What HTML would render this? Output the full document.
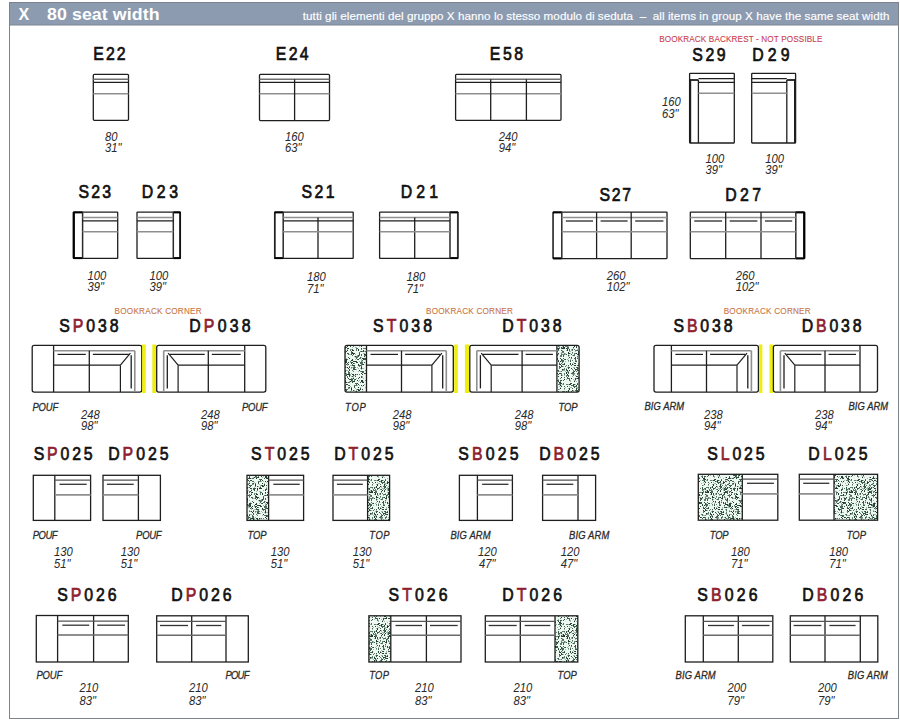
<!DOCTYPE html>
<html><head><meta charset="utf-8"><title>X 80 seat width</title>
<style>
html,body{margin:0;padding:0;background:#fff;}
body{width:900px;height:725px;overflow:hidden;position:relative;}
svg{position:absolute;left:0;top:0;}
</style></head><body>
<svg width="900" height="725" viewBox="0 0 900 725">
<defs>
<pattern id="tex" patternUnits="userSpaceOnUse" width="48" height="48">
<rect width="48" height="48" fill="#eef7f1"/><rect x="0" y="1" width="1" height="1" fill="#223a2e"/><rect x="0" y="2" width="1" height="1" fill="#4a6a58"/><rect x="0" y="3" width="1" height="1" fill="#9fb8aa"/><rect x="0" y="4" width="1" height="1" fill="#2b4838"/><rect x="0" y="5" width="1" height="1" fill="#2b4838"/><rect x="0" y="6" width="2" height="2" fill="#3a5a48"/><rect x="0" y="8" width="1" height="1" fill="#4a6a58"/><rect x="0" y="10" width="1" height="1" fill="#3a5a48"/><rect x="0" y="11" width="1" height="1" fill="#223a2e"/><rect x="0" y="14" width="2" height="1" fill="#4a6a58"/><rect x="0" y="17" width="1" height="1" fill="#223a2e"/><rect x="0" y="24" width="1" height="1" fill="#9fb8aa"/><rect x="0" y="25" width="1" height="1" fill="#3a5a48"/><rect x="0" y="31" width="1" height="1" fill="#4a6a58"/><rect x="0" y="33" width="1" height="1" fill="#2b4838"/><rect x="0" y="35" width="1" height="1" fill="#4a6a58"/><rect x="0" y="40" width="1" height="1" fill="#223a2e"/><rect x="0" y="42" width="2" height="1" fill="#5f7f6d"/><rect x="0" y="45" width="1" height="1" fill="#9fb8aa"/><rect x="1" y="0" width="1" height="1" fill="#2b4838"/><rect x="1" y="3" width="1" height="1" fill="#9fb8aa"/><rect x="1" y="4" width="1" height="1" fill="#9fb8aa"/><rect x="1" y="9" width="1" height="1" fill="#2b4838"/><rect x="1" y="13" width="1" height="1" fill="#9fb8aa"/><rect x="1" y="18" width="1" height="1" fill="#3a5a48"/><rect x="1" y="20" width="1" height="1" fill="#4a6a58"/><rect x="1" y="21" width="1" height="1" fill="#9fb8aa"/><rect x="1" y="22" width="1" height="1" fill="#4a6a58"/><rect x="1" y="29" width="1" height="1" fill="#4a6a58"/><rect x="1" y="31" width="1" height="1" fill="#2b4838"/><rect x="1" y="32" width="1" height="1" fill="#3a5a48"/><rect x="1" y="33" width="1" height="1" fill="#4a6a58"/><rect x="1" y="34" width="1" height="1" fill="#3a5a48"/><rect x="1" y="37" width="1" height="1" fill="#3a5a48"/><rect x="1" y="38" width="1" height="1" fill="#5f7f6d"/><rect x="1" y="40" width="1" height="1" fill="#2b4838"/><rect x="1" y="42" width="2" height="1" fill="#223a2e"/><rect x="1" y="47" width="1" height="1" fill="#4a6a58"/><rect x="2" y="3" width="1" height="1" fill="#9fb8aa"/><rect x="2" y="5" width="1" height="1" fill="#5f7f6d"/><rect x="2" y="8" width="1" height="1" fill="#9fb8aa"/><rect x="2" y="15" width="1" height="2" fill="#3a5a48"/><rect x="2" y="17" width="1" height="2" fill="#2b4838"/><rect x="2" y="18" width="1" height="1" fill="#223a2e"/><rect x="2" y="19" width="1" height="1" fill="#9fb8aa"/><rect x="2" y="27" width="1" height="1" fill="#9fb8aa"/><rect x="2" y="28" width="1" height="1" fill="#9fb8aa"/><rect x="2" y="29" width="1" height="1" fill="#3a5a48"/><rect x="2" y="32" width="2" height="1" fill="#5f7f6d"/><rect x="2" y="34" width="2" height="1" fill="#2b4838"/><rect x="2" y="36" width="1" height="2" fill="#5f7f6d"/><rect x="2" y="41" width="1" height="1" fill="#3a5a48"/><rect x="3" y="1" width="1" height="1" fill="#4a6a58"/><rect x="3" y="2" width="1" height="2" fill="#223a2e"/><rect x="3" y="7" width="1" height="1" fill="#9fb8aa"/><rect x="3" y="8" width="1" height="1" fill="#9fb8aa"/><rect x="3" y="9" width="1" height="1" fill="#9fb8aa"/><rect x="3" y="10" width="1" height="1" fill="#9fb8aa"/><rect x="3" y="12" width="1" height="1" fill="#9fb8aa"/><rect x="3" y="14" width="1" height="2" fill="#5f7f6d"/><rect x="3" y="22" width="1" height="1" fill="#2b4838"/><rect x="3" y="23" width="1" height="1" fill="#3a5a48"/><rect x="3" y="31" width="1" height="1" fill="#4a6a58"/><rect x="3" y="32" width="1" height="1" fill="#223a2e"/><rect x="3" y="34" width="1" height="1" fill="#223a2e"/><rect x="3" y="46" width="1" height="1" fill="#9fb8aa"/><rect x="4" y="2" width="1" height="1" fill="#223a2e"/><rect x="4" y="6" width="1" height="1" fill="#9fb8aa"/><rect x="4" y="8" width="2" height="2" fill="#3a5a48"/><rect x="4" y="10" width="1" height="1" fill="#3a5a48"/><rect x="4" y="12" width="1" height="2" fill="#2b4838"/><rect x="4" y="14" width="1" height="1" fill="#2b4838"/><rect x="4" y="16" width="1" height="2" fill="#5f7f6d"/><rect x="4" y="23" width="1" height="1" fill="#9fb8aa"/><rect x="4" y="25" width="1" height="1" fill="#3a5a48"/><rect x="4" y="26" width="1" height="1" fill="#9fb8aa"/><rect x="4" y="27" width="1" height="1" fill="#3a5a48"/><rect x="4" y="37" width="1" height="1" fill="#9fb8aa"/><rect x="4" y="39" width="1" height="1" fill="#223a2e"/><rect x="4" y="42" width="1" height="1" fill="#3a5a48"/><rect x="5" y="0" width="1" height="1" fill="#9fb8aa"/><rect x="5" y="1" width="2" height="1" fill="#4a6a58"/><rect x="5" y="4" width="1" height="1" fill="#9fb8aa"/><rect x="5" y="5" width="2" height="1" fill="#5f7f6d"/><rect x="5" y="7" width="1" height="2" fill="#2b4838"/><rect x="5" y="8" width="1" height="1" fill="#5f7f6d"/><rect x="5" y="9" width="2" height="1" fill="#223a2e"/><rect x="5" y="11" width="1" height="1" fill="#2b4838"/><rect x="5" y="12" width="2" height="1" fill="#2b4838"/><rect x="5" y="17" width="1" height="1" fill="#9fb8aa"/><rect x="5" y="18" width="1" height="1" fill="#9fb8aa"/><rect x="5" y="19" width="1" height="1" fill="#3a5a48"/><rect x="5" y="22" width="1" height="1" fill="#5f7f6d"/><rect x="5" y="23" width="1" height="2" fill="#2b4838"/><rect x="5" y="27" width="1" height="1" fill="#3a5a48"/><rect x="5" y="29" width="1" height="1" fill="#9fb8aa"/><rect x="5" y="33" width="1" height="1" fill="#9fb8aa"/><rect x="5" y="37" width="1" height="1" fill="#2b4838"/><rect x="5" y="38" width="1" height="1" fill="#9fb8aa"/><rect x="5" y="40" width="1" height="1" fill="#9fb8aa"/><rect x="5" y="42" width="1" height="1" fill="#223a2e"/><rect x="5" y="45" width="1" height="1" fill="#9fb8aa"/><rect x="5" y="47" width="1" height="2" fill="#4a6a58"/><rect x="6" y="6" width="1" height="1" fill="#9fb8aa"/><rect x="6" y="8" width="2" height="1" fill="#4a6a58"/><rect x="6" y="11" width="1" height="1" fill="#4a6a58"/><rect x="6" y="19" width="1" height="1" fill="#9fb8aa"/><rect x="6" y="20" width="2" height="1" fill="#3a5a48"/><rect x="6" y="24" width="2" height="1" fill="#223a2e"/><rect x="6" y="27" width="2" height="1" fill="#223a2e"/><rect x="6" y="29" width="1" height="2" fill="#4a6a58"/><rect x="6" y="31" width="1" height="1" fill="#9fb8aa"/><rect x="6" y="32" width="1" height="2" fill="#5f7f6d"/><rect x="6" y="34" width="1" height="1" fill="#9fb8aa"/><rect x="6" y="38" width="1" height="1" fill="#5f7f6d"/><rect x="6" y="40" width="1" height="1" fill="#4a6a58"/><rect x="6" y="41" width="1" height="1" fill="#9fb8aa"/><rect x="6" y="45" width="1" height="1" fill="#223a2e"/><rect x="6" y="47" width="2" height="1" fill="#3a5a48"/><rect x="7" y="0" width="1" height="1" fill="#9fb8aa"/><rect x="7" y="4" width="1" height="1" fill="#4a6a58"/><rect x="7" y="7" width="1" height="1" fill="#2b4838"/><rect x="7" y="10" width="1" height="1" fill="#9fb8aa"/><rect x="7" y="11" width="1" height="1" fill="#3a5a48"/><rect x="7" y="12" width="1" height="1" fill="#4a6a58"/><rect x="7" y="13" width="1" height="1" fill="#4a6a58"/><rect x="7" y="15" width="1" height="1" fill="#9fb8aa"/><rect x="7" y="18" width="1" height="2" fill="#223a2e"/><rect x="7" y="21" width="1" height="1" fill="#5f7f6d"/><rect x="7" y="22" width="1" height="1" fill="#5f7f6d"/><rect x="7" y="25" width="2" height="1" fill="#3a5a48"/><rect x="7" y="27" width="1" height="1" fill="#9fb8aa"/><rect x="7" y="34" width="1" height="1" fill="#9fb8aa"/><rect x="7" y="35" width="1" height="2" fill="#223a2e"/><rect x="7" y="36" width="1" height="1" fill="#9fb8aa"/><rect x="7" y="38" width="1" height="1" fill="#9fb8aa"/><rect x="7" y="39" width="1" height="1" fill="#9fb8aa"/><rect x="7" y="41" width="1" height="1" fill="#5f7f6d"/><rect x="8" y="0" width="1" height="1" fill="#2b4838"/><rect x="8" y="3" width="1" height="1" fill="#9fb8aa"/><rect x="8" y="4" width="1" height="1" fill="#4a6a58"/><rect x="8" y="7" width="1" height="1" fill="#9fb8aa"/><rect x="8" y="10" width="1" height="1" fill="#9fb8aa"/><rect x="8" y="15" width="1" height="1" fill="#3a5a48"/><rect x="8" y="24" width="1" height="1" fill="#9fb8aa"/><rect x="8" y="25" width="1" height="1" fill="#4a6a58"/><rect x="8" y="26" width="1" height="1" fill="#9fb8aa"/><rect x="8" y="27" width="1" height="1" fill="#9fb8aa"/><rect x="8" y="36" width="1" height="1" fill="#5f7f6d"/><rect x="8" y="37" width="1" height="2" fill="#4a6a58"/><rect x="8" y="40" width="1" height="1" fill="#3a5a48"/><rect x="8" y="46" width="2" height="1" fill="#2b4838"/><rect x="9" y="1" width="1" height="1" fill="#4a6a58"/><rect x="9" y="2" width="1" height="1" fill="#9fb8aa"/><rect x="9" y="3" width="1" height="1" fill="#3a5a48"/><rect x="9" y="5" width="1" height="1" fill="#2b4838"/><rect x="9" y="7" width="1" height="1" fill="#3a5a48"/><rect x="9" y="11" width="1" height="2" fill="#5f7f6d"/><rect x="9" y="14" width="1" height="1" fill="#5f7f6d"/><rect x="9" y="15" width="1" height="1" fill="#5f7f6d"/><rect x="9" y="16" width="1" height="1" fill="#4a6a58"/><rect x="9" y="17" width="1" height="1" fill="#9fb8aa"/><rect x="9" y="20" width="1" height="1" fill="#9fb8aa"/><rect x="9" y="23" width="2" height="2" fill="#2b4838"/><rect x="9" y="25" width="2" height="2" fill="#2b4838"/><rect x="9" y="27" width="1" height="1" fill="#9fb8aa"/><rect x="9" y="30" width="1" height="1" fill="#9fb8aa"/><rect x="9" y="31" width="2" height="1" fill="#5f7f6d"/><rect x="9" y="34" width="2" height="1" fill="#5f7f6d"/><rect x="9" y="35" width="1" height="1" fill="#2b4838"/><rect x="9" y="37" width="1" height="1" fill="#2b4838"/><rect x="9" y="39" width="1" height="1" fill="#9fb8aa"/><rect x="9" y="42" width="1" height="1" fill="#3a5a48"/><rect x="9" y="44" width="1" height="1" fill="#4a6a58"/><rect x="9" y="45" width="1" height="1" fill="#223a2e"/><rect x="10" y="0" width="2" height="1" fill="#2b4838"/><rect x="10" y="5" width="2" height="1" fill="#4a6a58"/><rect x="10" y="6" width="1" height="1" fill="#2b4838"/><rect x="10" y="8" width="1" height="1" fill="#223a2e"/><rect x="10" y="11" width="1" height="1" fill="#3a5a48"/><rect x="10" y="15" width="1" height="1" fill="#2b4838"/><rect x="10" y="22" width="1" height="1" fill="#9fb8aa"/><rect x="10" y="28" width="2" height="1" fill="#3a5a48"/><rect x="10" y="31" width="1" height="1" fill="#9fb8aa"/><rect x="10" y="34" width="1" height="1" fill="#9fb8aa"/><rect x="10" y="37" width="1" height="1" fill="#9fb8aa"/><rect x="10" y="38" width="2" height="1" fill="#4a6a58"/><rect x="10" y="39" width="1" height="1" fill="#3a5a48"/><rect x="10" y="46" width="1" height="1" fill="#2b4838"/><rect x="11" y="8" width="1" height="1" fill="#3a5a48"/><rect x="11" y="9" width="1" height="1" fill="#9fb8aa"/><rect x="11" y="10" width="1" height="1" fill="#223a2e"/><rect x="11" y="12" width="1" height="1" fill="#2b4838"/><rect x="11" y="13" width="1" height="1" fill="#9fb8aa"/><rect x="11" y="14" width="1" height="1" fill="#223a2e"/><rect x="11" y="17" width="1" height="1" fill="#3a5a48"/><rect x="11" y="23" width="1" height="1" fill="#5f7f6d"/><rect x="11" y="27" width="1" height="1" fill="#3a5a48"/><rect x="11" y="28" width="1" height="1" fill="#9fb8aa"/><rect x="11" y="29" width="1" height="1" fill="#9fb8aa"/><rect x="11" y="31" width="1" height="1" fill="#223a2e"/><rect x="11" y="34" width="1" height="1" fill="#9fb8aa"/><rect x="11" y="38" width="1" height="1" fill="#2b4838"/><rect x="11" y="40" width="1" height="1" fill="#5f7f6d"/><rect x="11" y="41" width="1" height="1" fill="#4a6a58"/><rect x="11" y="46" width="1" height="1" fill="#9fb8aa"/><rect x="12" y="1" width="2" height="1" fill="#4a6a58"/><rect x="12" y="3" width="1" height="1" fill="#5f7f6d"/><rect x="12" y="4" width="1" height="1" fill="#5f7f6d"/><rect x="12" y="12" width="1" height="1" fill="#223a2e"/><rect x="12" y="17" width="1" height="2" fill="#4a6a58"/><rect x="12" y="18" width="1" height="1" fill="#5f7f6d"/><rect x="12" y="21" width="1" height="1" fill="#4a6a58"/><rect x="12" y="26" width="1" height="1" fill="#2b4838"/><rect x="12" y="28" width="1" height="1" fill="#223a2e"/><rect x="12" y="32" width="1" height="1" fill="#223a2e"/><rect x="12" y="35" width="1" height="2" fill="#4a6a58"/><rect x="12" y="37" width="1" height="1" fill="#5f7f6d"/><rect x="12" y="38" width="1" height="1" fill="#223a2e"/><rect x="12" y="42" width="1" height="1" fill="#3a5a48"/><rect x="12" y="46" width="2" height="1" fill="#4a6a58"/><rect x="13" y="3" width="1" height="1" fill="#2b4838"/><rect x="13" y="4" width="1" height="1" fill="#9fb8aa"/><rect x="13" y="8" width="2" height="1" fill="#3a5a48"/><rect x="13" y="9" width="2" height="1" fill="#4a6a58"/><rect x="13" y="18" width="1" height="1" fill="#9fb8aa"/><rect x="13" y="22" width="1" height="1" fill="#223a2e"/><rect x="13" y="30" width="1" height="1" fill="#5f7f6d"/><rect x="13" y="31" width="1" height="1" fill="#2b4838"/><rect x="13" y="33" width="1" height="2" fill="#3a5a48"/><rect x="13" y="36" width="1" height="2" fill="#4a6a58"/><rect x="13" y="38" width="1" height="2" fill="#223a2e"/><rect x="13" y="40" width="1" height="1" fill="#3a5a48"/><rect x="13" y="43" width="1" height="1" fill="#3a5a48"/><rect x="13" y="45" width="1" height="1" fill="#9fb8aa"/><rect x="14" y="2" width="1" height="1" fill="#9fb8aa"/><rect x="14" y="7" width="1" height="1" fill="#9fb8aa"/><rect x="14" y="9" width="1" height="2" fill="#2b4838"/><rect x="14" y="13" width="1" height="1" fill="#5f7f6d"/><rect x="14" y="14" width="1" height="1" fill="#5f7f6d"/><rect x="14" y="18" width="1" height="1" fill="#9fb8aa"/><rect x="14" y="25" width="1" height="1" fill="#5f7f6d"/><rect x="14" y="26" width="1" height="1" fill="#9fb8aa"/><rect x="14" y="29" width="1" height="1" fill="#9fb8aa"/><rect x="14" y="38" width="1" height="1" fill="#9fb8aa"/><rect x="14" y="39" width="1" height="1" fill="#9fb8aa"/><rect x="14" y="43" width="1" height="1" fill="#2b4838"/><rect x="14" y="45" width="1" height="1" fill="#223a2e"/><rect x="15" y="3" width="1" height="1" fill="#5f7f6d"/><rect x="15" y="4" width="1" height="2" fill="#223a2e"/><rect x="15" y="5" width="1" height="2" fill="#223a2e"/><rect x="15" y="6" width="1" height="1" fill="#5f7f6d"/><rect x="15" y="8" width="1" height="1" fill="#4a6a58"/><rect x="15" y="13" width="1" height="1" fill="#9fb8aa"/><rect x="15" y="15" width="1" height="1" fill="#4a6a58"/><rect x="15" y="16" width="1" height="1" fill="#3a5a48"/><rect x="15" y="17" width="2" height="1" fill="#4a6a58"/><rect x="15" y="18" width="1" height="1" fill="#3a5a48"/><rect x="15" y="24" width="2" height="1" fill="#223a2e"/><rect x="15" y="26" width="2" height="1" fill="#2b4838"/><rect x="15" y="27" width="1" height="1" fill="#2b4838"/><rect x="15" y="29" width="1" height="1" fill="#9fb8aa"/><rect x="15" y="31" width="2" height="1" fill="#5f7f6d"/><rect x="15" y="32" width="1" height="1" fill="#9fb8aa"/><rect x="15" y="37" width="1" height="1" fill="#9fb8aa"/><rect x="15" y="40" width="1" height="1" fill="#9fb8aa"/><rect x="15" y="42" width="1" height="2" fill="#5f7f6d"/><rect x="15" y="43" width="2" height="1" fill="#3a5a48"/><rect x="15" y="44" width="1" height="1" fill="#2b4838"/><rect x="15" y="45" width="1" height="1" fill="#9fb8aa"/><rect x="16" y="11" width="1" height="1" fill="#9fb8aa"/><rect x="16" y="13" width="1" height="1" fill="#3a5a48"/><rect x="16" y="14" width="1" height="1" fill="#223a2e"/><rect x="16" y="16" width="1" height="1" fill="#223a2e"/><rect x="16" y="17" width="2" height="1" fill="#223a2e"/><rect x="16" y="19" width="1" height="1" fill="#4a6a58"/><rect x="16" y="23" width="1" height="1" fill="#2b4838"/><rect x="16" y="24" width="1" height="1" fill="#223a2e"/><rect x="16" y="28" width="1" height="1" fill="#5f7f6d"/><rect x="16" y="29" width="1" height="1" fill="#3a5a48"/><rect x="16" y="31" width="1" height="1" fill="#9fb8aa"/><rect x="16" y="34" width="1" height="1" fill="#5f7f6d"/><rect x="16" y="38" width="1" height="1" fill="#2b4838"/><rect x="16" y="40" width="2" height="1" fill="#2b4838"/><rect x="16" y="42" width="1" height="1" fill="#9fb8aa"/><rect x="16" y="44" width="1" height="1" fill="#5f7f6d"/><rect x="16" y="45" width="1" height="1" fill="#3a5a48"/><rect x="16" y="46" width="1" height="1" fill="#2b4838"/><rect x="17" y="6" width="2" height="1" fill="#3a5a48"/><rect x="17" y="8" width="1" height="2" fill="#223a2e"/><rect x="17" y="10" width="1" height="1" fill="#5f7f6d"/><rect x="17" y="14" width="1" height="1" fill="#223a2e"/><rect x="17" y="18" width="1" height="1" fill="#3a5a48"/><rect x="17" y="25" width="2" height="1" fill="#2b4838"/><rect x="17" y="27" width="2" height="1" fill="#2b4838"/><rect x="17" y="29" width="2" height="2" fill="#2b4838"/><rect x="17" y="30" width="1" height="1" fill="#9fb8aa"/><rect x="17" y="31" width="2" height="1" fill="#5f7f6d"/><rect x="17" y="32" width="1" height="2" fill="#3a5a48"/><rect x="17" y="35" width="1" height="1" fill="#5f7f6d"/><rect x="17" y="38" width="1" height="1" fill="#223a2e"/><rect x="17" y="39" width="1" height="2" fill="#3a5a48"/><rect x="17" y="40" width="1" height="1" fill="#9fb8aa"/><rect x="17" y="41" width="1" height="1" fill="#9fb8aa"/><rect x="17" y="42" width="1" height="1" fill="#223a2e"/><rect x="17" y="45" width="2" height="1" fill="#2b4838"/><rect x="18" y="1" width="2" height="1" fill="#4a6a58"/><rect x="18" y="2" width="1" height="2" fill="#3a5a48"/><rect x="18" y="6" width="1" height="1" fill="#9fb8aa"/><rect x="18" y="17" width="1" height="1" fill="#2b4838"/><rect x="18" y="20" width="1" height="1" fill="#9fb8aa"/><rect x="18" y="27" width="1" height="1" fill="#5f7f6d"/><rect x="18" y="30" width="1" height="1" fill="#5f7f6d"/><rect x="18" y="31" width="1" height="1" fill="#3a5a48"/><rect x="18" y="32" width="1" height="1" fill="#4a6a58"/><rect x="18" y="33" width="1" height="1" fill="#2b4838"/><rect x="18" y="39" width="1" height="1" fill="#9fb8aa"/><rect x="18" y="43" width="1" height="2" fill="#4a6a58"/><rect x="18" y="44" width="1" height="1" fill="#5f7f6d"/><rect x="18" y="45" width="1" height="1" fill="#223a2e"/><rect x="19" y="1" width="2" height="1" fill="#5f7f6d"/><rect x="19" y="4" width="1" height="1" fill="#9fb8aa"/><rect x="19" y="7" width="1" height="1" fill="#9fb8aa"/><rect x="19" y="8" width="2" height="1" fill="#223a2e"/><rect x="19" y="11" width="1" height="1" fill="#9fb8aa"/><rect x="19" y="18" width="1" height="1" fill="#9fb8aa"/><rect x="19" y="20" width="1" height="1" fill="#2b4838"/><rect x="19" y="21" width="1" height="1" fill="#9fb8aa"/><rect x="19" y="23" width="1" height="1" fill="#9fb8aa"/><rect x="19" y="25" width="2" height="1" fill="#223a2e"/><rect x="19" y="31" width="1" height="1" fill="#5f7f6d"/><rect x="19" y="33" width="1" height="1" fill="#4a6a58"/><rect x="19" y="38" width="2" height="1" fill="#223a2e"/><rect x="19" y="39" width="1" height="1" fill="#9fb8aa"/><rect x="19" y="40" width="1" height="1" fill="#3a5a48"/><rect x="19" y="43" width="1" height="1" fill="#2b4838"/><rect x="19" y="47" width="2" height="1" fill="#4a6a58"/><rect x="20" y="0" width="1" height="1" fill="#3a5a48"/><rect x="20" y="5" width="1" height="1" fill="#9fb8aa"/><rect x="20" y="6" width="1" height="1" fill="#9fb8aa"/><rect x="20" y="7" width="1" height="1" fill="#2b4838"/><rect x="20" y="11" width="1" height="1" fill="#9fb8aa"/><rect x="20" y="12" width="2" height="1" fill="#4a6a58"/><rect x="20" y="13" width="1" height="2" fill="#5f7f6d"/><rect x="20" y="20" width="2" height="2" fill="#5f7f6d"/><rect x="20" y="21" width="1" height="2" fill="#4a6a58"/><rect x="20" y="25" width="1" height="1" fill="#2b4838"/><rect x="20" y="26" width="2" height="1" fill="#2b4838"/><rect x="20" y="33" width="1" height="1" fill="#9fb8aa"/><rect x="20" y="38" width="1" height="1" fill="#9fb8aa"/><rect x="20" y="42" width="1" height="1" fill="#9fb8aa"/><rect x="21" y="1" width="1" height="1" fill="#9fb8aa"/><rect x="21" y="5" width="1" height="1" fill="#4a6a58"/><rect x="21" y="8" width="1" height="1" fill="#223a2e"/><rect x="21" y="19" width="1" height="1" fill="#9fb8aa"/><rect x="21" y="23" width="1" height="1" fill="#3a5a48"/><rect x="21" y="31" width="1" height="1" fill="#9fb8aa"/><rect x="21" y="38" width="1" height="1" fill="#4a6a58"/><rect x="21" y="44" width="1" height="1" fill="#2b4838"/><rect x="21" y="47" width="1" height="1" fill="#2b4838"/><rect x="22" y="0" width="1" height="1" fill="#2b4838"/><rect x="22" y="3" width="1" height="1" fill="#223a2e"/><rect x="22" y="5" width="1" height="2" fill="#223a2e"/><rect x="22" y="13" width="1" height="2" fill="#223a2e"/><rect x="22" y="19" width="1" height="1" fill="#223a2e"/><rect x="22" y="20" width="1" height="1" fill="#4a6a58"/><rect x="22" y="23" width="1" height="1" fill="#2b4838"/><rect x="22" y="28" width="1" height="2" fill="#223a2e"/><rect x="22" y="29" width="1" height="1" fill="#2b4838"/><rect x="22" y="32" width="1" height="1" fill="#9fb8aa"/><rect x="22" y="35" width="1" height="1" fill="#9fb8aa"/><rect x="22" y="42" width="1" height="1" fill="#3a5a48"/><rect x="22" y="45" width="1" height="1" fill="#9fb8aa"/><rect x="23" y="1" width="1" height="1" fill="#9fb8aa"/><rect x="23" y="5" width="1" height="1" fill="#9fb8aa"/><rect x="23" y="6" width="1" height="1" fill="#223a2e"/><rect x="23" y="10" width="1" height="1" fill="#9fb8aa"/><rect x="23" y="16" width="1" height="1" fill="#4a6a58"/><rect x="23" y="17" width="1" height="1" fill="#3a5a48"/><rect x="23" y="18" width="1" height="2" fill="#2b4838"/><rect x="23" y="19" width="1" height="1" fill="#5f7f6d"/><rect x="23" y="22" width="1" height="1" fill="#5f7f6d"/><rect x="23" y="25" width="1" height="1" fill="#9fb8aa"/><rect x="23" y="29" width="1" height="1" fill="#3a5a48"/><rect x="23" y="30" width="1" height="1" fill="#5f7f6d"/><rect x="23" y="34" width="1" height="1" fill="#223a2e"/><rect x="23" y="38" width="1" height="1" fill="#5f7f6d"/><rect x="23" y="41" width="1" height="1" fill="#223a2e"/><rect x="23" y="44" width="1" height="1" fill="#9fb8aa"/><rect x="24" y="3" width="1" height="1" fill="#9fb8aa"/><rect x="24" y="4" width="1" height="1" fill="#3a5a48"/><rect x="24" y="5" width="1" height="1" fill="#223a2e"/><rect x="24" y="15" width="1" height="1" fill="#5f7f6d"/><rect x="24" y="21" width="2" height="1" fill="#3a5a48"/><rect x="24" y="22" width="1" height="1" fill="#5f7f6d"/><rect x="24" y="26" width="2" height="2" fill="#4a6a58"/><rect x="24" y="29" width="1" height="1" fill="#3a5a48"/><rect x="24" y="32" width="1" height="1" fill="#9fb8aa"/><rect x="24" y="35" width="1" height="1" fill="#5f7f6d"/><rect x="24" y="46" width="1" height="1" fill="#3a5a48"/><rect x="25" y="1" width="1" height="1" fill="#2b4838"/><rect x="25" y="9" width="2" height="1" fill="#3a5a48"/><rect x="25" y="10" width="1" height="1" fill="#2b4838"/><rect x="25" y="12" width="1" height="1" fill="#2b4838"/><rect x="25" y="13" width="1" height="1" fill="#5f7f6d"/><rect x="25" y="15" width="1" height="1" fill="#2b4838"/><rect x="25" y="18" width="1" height="2" fill="#4a6a58"/><rect x="25" y="21" width="1" height="1" fill="#9fb8aa"/><rect x="25" y="23" width="1" height="1" fill="#9fb8aa"/><rect x="25" y="24" width="1" height="1" fill="#9fb8aa"/><rect x="25" y="25" width="1" height="1" fill="#5f7f6d"/><rect x="25" y="28" width="1" height="1" fill="#5f7f6d"/><rect x="25" y="29" width="1" height="2" fill="#5f7f6d"/><rect x="25" y="30" width="1" height="1" fill="#4a6a58"/><rect x="25" y="31" width="1" height="1" fill="#223a2e"/><rect x="25" y="32" width="1" height="1" fill="#2b4838"/><rect x="25" y="33" width="1" height="1" fill="#9fb8aa"/><rect x="25" y="35" width="1" height="1" fill="#3a5a48"/><rect x="25" y="37" width="1" height="1" fill="#223a2e"/><rect x="25" y="40" width="1" height="2" fill="#3a5a48"/><rect x="25" y="44" width="2" height="2" fill="#223a2e"/><rect x="26" y="2" width="1" height="1" fill="#9fb8aa"/><rect x="26" y="5" width="1" height="1" fill="#2b4838"/><rect x="26" y="7" width="1" height="1" fill="#9fb8aa"/><rect x="26" y="8" width="1" height="1" fill="#5f7f6d"/><rect x="26" y="15" width="2" height="1" fill="#5f7f6d"/><rect x="26" y="22" width="2" height="1" fill="#223a2e"/><rect x="26" y="24" width="1" height="1" fill="#4a6a58"/><rect x="26" y="25" width="1" height="1" fill="#9fb8aa"/><rect x="26" y="26" width="1" height="1" fill="#4a6a58"/><rect x="26" y="27" width="1" height="1" fill="#5f7f6d"/><rect x="26" y="28" width="1" height="1" fill="#3a5a48"/><rect x="26" y="32" width="1" height="1" fill="#9fb8aa"/><rect x="26" y="35" width="1" height="1" fill="#3a5a48"/><rect x="26" y="36" width="1" height="1" fill="#2b4838"/><rect x="26" y="38" width="1" height="1" fill="#223a2e"/><rect x="26" y="40" width="1" height="1" fill="#9fb8aa"/><rect x="26" y="41" width="1" height="1" fill="#9fb8aa"/><rect x="26" y="46" width="2" height="1" fill="#2b4838"/><rect x="27" y="1" width="1" height="1" fill="#223a2e"/><rect x="27" y="12" width="1" height="1" fill="#5f7f6d"/><rect x="27" y="14" width="1" height="1" fill="#223a2e"/><rect x="27" y="15" width="1" height="1" fill="#2b4838"/><rect x="27" y="17" width="1" height="1" fill="#9fb8aa"/><rect x="27" y="22" width="1" height="2" fill="#223a2e"/><rect x="27" y="28" width="1" height="1" fill="#223a2e"/><rect x="27" y="32" width="1" height="1" fill="#9fb8aa"/><rect x="27" y="35" width="1" height="1" fill="#4a6a58"/><rect x="27" y="36" width="1" height="1" fill="#4a6a58"/><rect x="27" y="42" width="1" height="1" fill="#9fb8aa"/><rect x="27" y="45" width="1" height="1" fill="#9fb8aa"/><rect x="28" y="0" width="1" height="1" fill="#9fb8aa"/><rect x="28" y="8" width="1" height="1" fill="#5f7f6d"/><rect x="28" y="12" width="1" height="1" fill="#5f7f6d"/><rect x="28" y="15" width="1" height="1" fill="#9fb8aa"/><rect x="28" y="17" width="1" height="1" fill="#9fb8aa"/><rect x="28" y="18" width="1" height="1" fill="#223a2e"/><rect x="28" y="19" width="1" height="2" fill="#5f7f6d"/><rect x="28" y="20" width="1" height="1" fill="#2b4838"/><rect x="28" y="22" width="2" height="2" fill="#3a5a48"/><rect x="28" y="26" width="1" height="1" fill="#3a5a48"/><rect x="28" y="37" width="1" height="1" fill="#223a2e"/><rect x="29" y="3" width="1" height="1" fill="#9fb8aa"/><rect x="29" y="12" width="1" height="1" fill="#5f7f6d"/><rect x="29" y="15" width="1" height="1" fill="#5f7f6d"/><rect x="29" y="18" width="1" height="1" fill="#2b4838"/><rect x="29" y="19" width="1" height="1" fill="#4a6a58"/><rect x="29" y="34" width="1" height="1" fill="#5f7f6d"/><rect x="29" y="37" width="1" height="1" fill="#3a5a48"/><rect x="29" y="44" width="1" height="1" fill="#5f7f6d"/><rect x="30" y="0" width="2" height="1" fill="#5f7f6d"/><rect x="30" y="5" width="1" height="1" fill="#5f7f6d"/><rect x="30" y="7" width="1" height="2" fill="#3a5a48"/><rect x="30" y="9" width="2" height="2" fill="#4a6a58"/><rect x="30" y="12" width="1" height="2" fill="#223a2e"/><rect x="30" y="14" width="1" height="1" fill="#5f7f6d"/><rect x="30" y="17" width="1" height="1" fill="#2b4838"/><rect x="30" y="18" width="1" height="1" fill="#9fb8aa"/><rect x="30" y="24" width="1" height="1" fill="#3a5a48"/><rect x="30" y="25" width="1" height="1" fill="#223a2e"/><rect x="30" y="34" width="1" height="1" fill="#3a5a48"/><rect x="30" y="35" width="2" height="1" fill="#5f7f6d"/><rect x="30" y="38" width="1" height="1" fill="#3a5a48"/><rect x="30" y="40" width="1" height="1" fill="#2b4838"/><rect x="30" y="43" width="1" height="1" fill="#9fb8aa"/><rect x="30" y="44" width="1" height="1" fill="#4a6a58"/><rect x="30" y="45" width="1" height="1" fill="#2b4838"/><rect x="31" y="2" width="1" height="1" fill="#9fb8aa"/><rect x="31" y="5" width="1" height="1" fill="#9fb8aa"/><rect x="31" y="10" width="1" height="1" fill="#9fb8aa"/><rect x="31" y="11" width="1" height="1" fill="#5f7f6d"/><rect x="31" y="12" width="1" height="1" fill="#5f7f6d"/><rect x="31" y="26" width="1" height="1" fill="#9fb8aa"/><rect x="31" y="27" width="1" height="2" fill="#3a5a48"/><rect x="31" y="28" width="1" height="1" fill="#3a5a48"/><rect x="31" y="30" width="1" height="1" fill="#2b4838"/><rect x="31" y="31" width="1" height="2" fill="#5f7f6d"/><rect x="31" y="35" width="1" height="1" fill="#9fb8aa"/><rect x="31" y="37" width="2" height="1" fill="#2b4838"/><rect x="31" y="46" width="2" height="1" fill="#223a2e"/><rect x="31" y="47" width="2" height="1" fill="#5f7f6d"/><rect x="32" y="0" width="1" height="1" fill="#4a6a58"/><rect x="32" y="1" width="2" height="1" fill="#223a2e"/><rect x="32" y="3" width="1" height="1" fill="#9fb8aa"/><rect x="32" y="4" width="1" height="1" fill="#223a2e"/><rect x="32" y="8" width="1" height="1" fill="#5f7f6d"/><rect x="32" y="9" width="1" height="1" fill="#9fb8aa"/><rect x="32" y="19" width="2" height="2" fill="#5f7f6d"/><rect x="32" y="22" width="1" height="1" fill="#2b4838"/><rect x="32" y="25" width="1" height="1" fill="#223a2e"/><rect x="32" y="28" width="1" height="1" fill="#223a2e"/><rect x="32" y="31" width="1" height="1" fill="#223a2e"/><rect x="32" y="35" width="1" height="1" fill="#9fb8aa"/><rect x="32" y="42" width="1" height="1" fill="#5f7f6d"/><rect x="32" y="44" width="2" height="1" fill="#3a5a48"/><rect x="32" y="45" width="1" height="1" fill="#5f7f6d"/><rect x="32" y="47" width="2" height="1" fill="#2b4838"/><rect x="33" y="1" width="1" height="1" fill="#9fb8aa"/><rect x="33" y="2" width="1" height="1" fill="#2b4838"/><rect x="33" y="8" width="1" height="2" fill="#3a5a48"/><rect x="33" y="11" width="1" height="2" fill="#3a5a48"/><rect x="33" y="14" width="2" height="1" fill="#3a5a48"/><rect x="33" y="16" width="1" height="1" fill="#9fb8aa"/><rect x="33" y="17" width="1" height="1" fill="#5f7f6d"/><rect x="33" y="18" width="1" height="1" fill="#5f7f6d"/><rect x="33" y="23" width="1" height="2" fill="#2b4838"/><rect x="33" y="25" width="1" height="1" fill="#9fb8aa"/><rect x="33" y="27" width="1" height="1" fill="#4a6a58"/><rect x="33" y="29" width="1" height="2" fill="#2b4838"/><rect x="33" y="35" width="1" height="1" fill="#5f7f6d"/><rect x="33" y="37" width="1" height="1" fill="#5f7f6d"/><rect x="33" y="38" width="1" height="1" fill="#5f7f6d"/><rect x="33" y="39" width="1" height="1" fill="#2b4838"/><rect x="33" y="41" width="1" height="1" fill="#223a2e"/><rect x="34" y="0" width="1" height="1" fill="#9fb8aa"/><rect x="34" y="7" width="2" height="1" fill="#5f7f6d"/><rect x="34" y="10" width="1" height="1" fill="#9fb8aa"/><rect x="34" y="11" width="1" height="1" fill="#9fb8aa"/><rect x="34" y="12" width="1" height="1" fill="#223a2e"/><rect x="34" y="14" width="1" height="1" fill="#9fb8aa"/><rect x="34" y="15" width="2" height="1" fill="#4a6a58"/><rect x="34" y="16" width="2" height="1" fill="#5f7f6d"/><rect x="34" y="18" width="1" height="1" fill="#5f7f6d"/><rect x="34" y="23" width="1" height="1" fill="#9fb8aa"/><rect x="34" y="24" width="2" height="2" fill="#4a6a58"/><rect x="34" y="26" width="1" height="1" fill="#3a5a48"/><rect x="34" y="28" width="1" height="1" fill="#5f7f6d"/><rect x="34" y="30" width="1" height="1" fill="#3a5a48"/><rect x="34" y="33" width="1" height="1" fill="#223a2e"/><rect x="34" y="34" width="1" height="1" fill="#5f7f6d"/><rect x="34" y="39" width="1" height="1" fill="#9fb8aa"/><rect x="35" y="0" width="1" height="1" fill="#5f7f6d"/><rect x="35" y="10" width="1" height="1" fill="#2b4838"/><rect x="35" y="11" width="2" height="2" fill="#223a2e"/><rect x="35" y="18" width="1" height="2" fill="#5f7f6d"/><rect x="35" y="19" width="1" height="2" fill="#3a5a48"/><rect x="35" y="22" width="1" height="1" fill="#4a6a58"/><rect x="35" y="28" width="1" height="1" fill="#3a5a48"/><rect x="35" y="30" width="1" height="1" fill="#9fb8aa"/><rect x="35" y="33" width="2" height="1" fill="#5f7f6d"/><rect x="35" y="34" width="1" height="1" fill="#9fb8aa"/><rect x="35" y="44" width="1" height="1" fill="#4a6a58"/><rect x="35" y="47" width="1" height="1" fill="#4a6a58"/><rect x="36" y="2" width="1" height="1" fill="#3a5a48"/><rect x="36" y="4" width="1" height="1" fill="#4a6a58"/><rect x="36" y="5" width="1" height="1" fill="#9fb8aa"/><rect x="36" y="7" width="1" height="1" fill="#4a6a58"/><rect x="36" y="8" width="1" height="1" fill="#9fb8aa"/><rect x="36" y="17" width="2" height="2" fill="#5f7f6d"/><rect x="36" y="18" width="1" height="1" fill="#5f7f6d"/><rect x="36" y="23" width="1" height="1" fill="#4a6a58"/><rect x="36" y="27" width="1" height="1" fill="#3a5a48"/><rect x="36" y="28" width="1" height="1" fill="#2b4838"/><rect x="36" y="32" width="1" height="1" fill="#5f7f6d"/><rect x="36" y="34" width="1" height="1" fill="#9fb8aa"/><rect x="36" y="37" width="1" height="2" fill="#5f7f6d"/><rect x="36" y="39" width="1" height="1" fill="#9fb8aa"/><rect x="36" y="41" width="1" height="1" fill="#3a5a48"/><rect x="36" y="43" width="1" height="1" fill="#223a2e"/><rect x="37" y="3" width="1" height="1" fill="#9fb8aa"/><rect x="37" y="9" width="1" height="1" fill="#4a6a58"/><rect x="37" y="10" width="2" height="1" fill="#5f7f6d"/><rect x="37" y="17" width="1" height="1" fill="#9fb8aa"/><rect x="37" y="18" width="1" height="1" fill="#9fb8aa"/><rect x="37" y="23" width="1" height="1" fill="#2b4838"/><rect x="37" y="25" width="1" height="1" fill="#9fb8aa"/><rect x="37" y="30" width="1" height="1" fill="#4a6a58"/><rect x="37" y="35" width="1" height="1" fill="#9fb8aa"/><rect x="38" y="0" width="2" height="1" fill="#5f7f6d"/><rect x="38" y="7" width="1" height="2" fill="#3a5a48"/><rect x="38" y="12" width="1" height="1" fill="#223a2e"/><rect x="38" y="14" width="1" height="1" fill="#9fb8aa"/><rect x="38" y="18" width="1" height="1" fill="#3a5a48"/><rect x="38" y="29" width="1" height="1" fill="#5f7f6d"/><rect x="38" y="32" width="1" height="1" fill="#9fb8aa"/><rect x="38" y="33" width="1" height="1" fill="#223a2e"/><rect x="38" y="34" width="1" height="1" fill="#4a6a58"/><rect x="38" y="36" width="1" height="1" fill="#223a2e"/><rect x="38" y="37" width="1" height="1" fill="#223a2e"/><rect x="38" y="39" width="1" height="2" fill="#5f7f6d"/><rect x="38" y="43" width="1" height="1" fill="#9fb8aa"/><rect x="39" y="2" width="1" height="1" fill="#2b4838"/><rect x="39" y="7" width="1" height="1" fill="#9fb8aa"/><rect x="39" y="9" width="1" height="2" fill="#5f7f6d"/><rect x="39" y="11" width="2" height="2" fill="#4a6a58"/><rect x="39" y="13" width="1" height="1" fill="#223a2e"/><rect x="39" y="14" width="1" height="1" fill="#223a2e"/><rect x="39" y="23" width="1" height="1" fill="#9fb8aa"/><rect x="39" y="31" width="1" height="1" fill="#9fb8aa"/><rect x="39" y="34" width="1" height="1" fill="#223a2e"/><rect x="39" y="35" width="1" height="2" fill="#5f7f6d"/><rect x="39" y="36" width="1" height="1" fill="#9fb8aa"/><rect x="39" y="38" width="1" height="1" fill="#223a2e"/><rect x="39" y="39" width="1" height="1" fill="#4a6a58"/><rect x="39" y="41" width="1" height="2" fill="#4a6a58"/><rect x="39" y="42" width="2" height="1" fill="#3a5a48"/><rect x="40" y="0" width="1" height="1" fill="#9fb8aa"/><rect x="40" y="4" width="1" height="1" fill="#9fb8aa"/><rect x="40" y="6" width="1" height="2" fill="#223a2e"/><rect x="40" y="10" width="1" height="1" fill="#9fb8aa"/><rect x="40" y="16" width="1" height="2" fill="#223a2e"/><rect x="40" y="18" width="1" height="1" fill="#9fb8aa"/><rect x="40" y="19" width="2" height="1" fill="#2b4838"/><rect x="40" y="20" width="1" height="1" fill="#9fb8aa"/><rect x="40" y="22" width="1" height="1" fill="#9fb8aa"/><rect x="40" y="24" width="1" height="1" fill="#5f7f6d"/><rect x="40" y="25" width="1" height="1" fill="#9fb8aa"/><rect x="40" y="29" width="1" height="1" fill="#4a6a58"/><rect x="40" y="30" width="1" height="1" fill="#9fb8aa"/><rect x="40" y="31" width="2" height="1" fill="#3a5a48"/><rect x="40" y="32" width="1" height="1" fill="#2b4838"/><rect x="40" y="35" width="1" height="1" fill="#9fb8aa"/><rect x="40" y="36" width="1" height="1" fill="#223a2e"/><rect x="40" y="37" width="1" height="1" fill="#5f7f6d"/><rect x="40" y="39" width="1" height="2" fill="#3a5a48"/><rect x="41" y="0" width="1" height="1" fill="#223a2e"/><rect x="41" y="2" width="1" height="1" fill="#9fb8aa"/><rect x="41" y="4" width="1" height="1" fill="#223a2e"/><rect x="41" y="5" width="1" height="1" fill="#223a2e"/><rect x="41" y="8" width="2" height="1" fill="#3a5a48"/><rect x="41" y="9" width="1" height="1" fill="#4a6a58"/><rect x="41" y="13" width="1" height="2" fill="#3a5a48"/><rect x="41" y="14" width="1" height="1" fill="#3a5a48"/><rect x="41" y="15" width="1" height="1" fill="#9fb8aa"/><rect x="41" y="17" width="1" height="1" fill="#223a2e"/><rect x="41" y="19" width="1" height="1" fill="#9fb8aa"/><rect x="41" y="21" width="1" height="1" fill="#2b4838"/><rect x="41" y="34" width="1" height="1" fill="#223a2e"/><rect x="41" y="42" width="1" height="2" fill="#4a6a58"/><rect x="41" y="43" width="1" height="2" fill="#4a6a58"/><rect x="42" y="0" width="1" height="1" fill="#2b4838"/><rect x="42" y="3" width="1" height="1" fill="#9fb8aa"/><rect x="42" y="15" width="1" height="1" fill="#9fb8aa"/><rect x="42" y="17" width="1" height="1" fill="#9fb8aa"/><rect x="42" y="23" width="1" height="1" fill="#9fb8aa"/><rect x="42" y="24" width="1" height="1" fill="#4a6a58"/><rect x="42" y="25" width="1" height="1" fill="#3a5a48"/><rect x="42" y="27" width="1" height="2" fill="#2b4838"/><rect x="42" y="44" width="1" height="1" fill="#9fb8aa"/><rect x="42" y="45" width="1" height="1" fill="#9fb8aa"/><rect x="42" y="47" width="2" height="1" fill="#2b4838"/><rect x="43" y="1" width="1" height="1" fill="#3a5a48"/><rect x="43" y="3" width="1" height="1" fill="#9fb8aa"/><rect x="43" y="7" width="1" height="1" fill="#3a5a48"/><rect x="43" y="8" width="1" height="1" fill="#9fb8aa"/><rect x="43" y="13" width="1" height="1" fill="#9fb8aa"/><rect x="43" y="14" width="1" height="1" fill="#9fb8aa"/><rect x="43" y="18" width="1" height="1" fill="#3a5a48"/><rect x="43" y="21" width="1" height="1" fill="#2b4838"/><rect x="43" y="22" width="1" height="1" fill="#5f7f6d"/><rect x="43" y="29" width="1" height="1" fill="#4a6a58"/><rect x="43" y="32" width="1" height="1" fill="#2b4838"/><rect x="43" y="37" width="1" height="1" fill="#4a6a58"/><rect x="43" y="42" width="1" height="1" fill="#223a2e"/><rect x="44" y="1" width="1" height="1" fill="#5f7f6d"/><rect x="44" y="4" width="1" height="1" fill="#3a5a48"/><rect x="44" y="6" width="1" height="1" fill="#223a2e"/><rect x="44" y="9" width="1" height="1" fill="#5f7f6d"/><rect x="44" y="13" width="1" height="2" fill="#2b4838"/><rect x="44" y="14" width="1" height="1" fill="#5f7f6d"/><rect x="44" y="16" width="1" height="1" fill="#4a6a58"/><rect x="44" y="17" width="1" height="1" fill="#9fb8aa"/><rect x="44" y="19" width="1" height="1" fill="#9fb8aa"/><rect x="44" y="24" width="1" height="1" fill="#5f7f6d"/><rect x="44" y="27" width="1" height="1" fill="#9fb8aa"/><rect x="44" y="28" width="1" height="1" fill="#223a2e"/><rect x="44" y="33" width="1" height="1" fill="#5f7f6d"/><rect x="44" y="36" width="1" height="1" fill="#5f7f6d"/><rect x="44" y="37" width="1" height="1" fill="#4a6a58"/><rect x="44" y="38" width="1" height="1" fill="#9fb8aa"/><rect x="44" y="40" width="1" height="1" fill="#9fb8aa"/><rect x="45" y="0" width="2" height="1" fill="#2b4838"/><rect x="45" y="1" width="1" height="1" fill="#223a2e"/><rect x="45" y="2" width="2" height="1" fill="#4a6a58"/><rect x="45" y="6" width="1" height="1" fill="#9fb8aa"/><rect x="45" y="7" width="1" height="1" fill="#9fb8aa"/><rect x="45" y="9" width="1" height="1" fill="#3a5a48"/><rect x="45" y="11" width="1" height="1" fill="#223a2e"/><rect x="45" y="12" width="1" height="1" fill="#9fb8aa"/><rect x="45" y="19" width="1" height="1" fill="#3a5a48"/><rect x="45" y="26" width="1" height="1" fill="#9fb8aa"/><rect x="45" y="28" width="1" height="1" fill="#9fb8aa"/><rect x="45" y="31" width="1" height="1" fill="#9fb8aa"/><rect x="45" y="34" width="1" height="2" fill="#5f7f6d"/><rect x="45" y="36" width="1" height="2" fill="#2b4838"/><rect x="45" y="37" width="2" height="1" fill="#5f7f6d"/><rect x="45" y="38" width="1" height="2" fill="#5f7f6d"/><rect x="45" y="43" width="1" height="1" fill="#9fb8aa"/><rect x="46" y="0" width="1" height="1" fill="#2b4838"/><rect x="46" y="3" width="1" height="1" fill="#3a5a48"/><rect x="46" y="8" width="1" height="1" fill="#9fb8aa"/><rect x="46" y="10" width="1" height="1" fill="#223a2e"/><rect x="46" y="13" width="1" height="1" fill="#5f7f6d"/><rect x="46" y="17" width="1" height="2" fill="#5f7f6d"/><rect x="46" y="19" width="1" height="1" fill="#4a6a58"/><rect x="46" y="22" width="1" height="1" fill="#4a6a58"/><rect x="46" y="27" width="1" height="1" fill="#3a5a48"/><rect x="46" y="29" width="2" height="1" fill="#223a2e"/><rect x="46" y="31" width="1" height="1" fill="#9fb8aa"/><rect x="46" y="32" width="1" height="1" fill="#3a5a48"/><rect x="46" y="35" width="1" height="1" fill="#2b4838"/><rect x="46" y="37" width="1" height="1" fill="#5f7f6d"/><rect x="46" y="38" width="1" height="1" fill="#9fb8aa"/><rect x="46" y="44" width="1" height="1" fill="#9fb8aa"/><rect x="46" y="45" width="1" height="1" fill="#223a2e"/><rect x="47" y="0" width="1" height="1" fill="#9fb8aa"/><rect x="47" y="2" width="1" height="1" fill="#3a5a48"/><rect x="47" y="6" width="1" height="1" fill="#4a6a58"/><rect x="47" y="8" width="1" height="1" fill="#9fb8aa"/><rect x="47" y="9" width="1" height="1" fill="#9fb8aa"/><rect x="47" y="14" width="1" height="1" fill="#5f7f6d"/><rect x="47" y="15" width="1" height="1" fill="#9fb8aa"/><rect x="47" y="17" width="1" height="1" fill="#5f7f6d"/><rect x="47" y="21" width="1" height="1" fill="#2b4838"/><rect x="47" y="22" width="1" height="2" fill="#3a5a48"/><rect x="47" y="24" width="1" height="1" fill="#5f7f6d"/><rect x="47" y="25" width="2" height="1" fill="#3a5a48"/><rect x="47" y="27" width="1" height="1" fill="#223a2e"/><rect x="47" y="33" width="1" height="1" fill="#223a2e"/><rect x="47" y="34" width="1" height="1" fill="#5f7f6d"/><rect x="47" y="39" width="1" height="1" fill="#9fb8aa"/><rect x="47" y="42" width="2" height="1" fill="#2b4838"/><rect x="47" y="43" width="2" height="1" fill="#2b4838"/><rect x="47" y="44" width="1" height="1" fill="#9fb8aa"/>
</pattern>
</defs>
<rect x="0" y="0" width="900" height="725" fill="#ffffff"/>
<rect x="9.5" y="2.5" width="889" height="716" fill="none" stroke="#7f848a" stroke-width="1"/>
<rect x="10" y="3" width="888" height="22" fill="#8c9bb0"/>
<line x1="9.5" y1="2.5" x2="898" y2="2.5" stroke="#7c838c" stroke-width="1"/>
<line x1="10" y1="25" x2="898" y2="25" stroke="#7d8694" stroke-width="1"/>
<text x="18.5" y="20" font-family="Liberation Sans" font-weight="bold" font-size="16" fill="#fff">X</text>
<text transform="translate(47.0 20) scale(1.11 1)" font-family="Liberation Sans" font-weight="bold" font-size="16" fill="#fff" textLength="101.4" lengthAdjust="spacing">80 seat width</text>
<text transform="translate(302.8 19.7) scale(1.06 1)" font-family="Liberation Sans" font-size="11" fill="#fff" stroke="#fff" stroke-width="0.15" textLength="553.5" lengthAdjust="spacing">tutti gli elementi del gruppo X hanno lo stesso modulo di seduta&#160; –&#160; all items in group X have the same seat width</text>
<rect x="93.30" y="74.30" width="35.20" height="46.00" rx="1" stroke="#1e1e1e" stroke-width="1.3" fill="none"/>
<line x1="93.30" y1="79.30" x2="128.50" y2="79.30" stroke="#707070" stroke-width="1.5"/>
<line x1="93.30" y1="82.30" x2="128.50" y2="82.30" stroke="#1e1e1e" stroke-width="1.2"/>
<line x1="93.30" y1="93.80" x2="128.50" y2="93.80" stroke="#8f8f8f" stroke-width="1.6"/>
<rect x="259.50" y="74.30" width="70.00" height="46.30" rx="1" stroke="#1e1e1e" stroke-width="1.3" fill="none"/>
<line x1="259.50" y1="79.30" x2="329.50" y2="79.30" stroke="#707070" stroke-width="1.5"/>
<line x1="259.50" y1="82.30" x2="329.50" y2="82.30" stroke="#1e1e1e" stroke-width="1.2"/>
<line x1="259.50" y1="93.80" x2="329.50" y2="93.80" stroke="#8f8f8f" stroke-width="1.6"/>
<line x1="294.60" y1="79.30" x2="294.60" y2="120.60" stroke="#1e1e1e" stroke-width="1.3"/>
<rect x="455.60" y="74.30" width="105.40" height="46.00" rx="1" stroke="#1e1e1e" stroke-width="1.3" fill="none"/>
<line x1="455.60" y1="79.30" x2="561.00" y2="79.30" stroke="#707070" stroke-width="1.5"/>
<line x1="455.60" y1="82.30" x2="561.00" y2="82.30" stroke="#1e1e1e" stroke-width="1.2"/>
<line x1="455.60" y1="93.80" x2="561.00" y2="93.80" stroke="#8f8f8f" stroke-width="1.6"/>
<line x1="490.70" y1="79.30" x2="490.70" y2="120.30" stroke="#1e1e1e" stroke-width="1.3"/>
<line x1="526.40" y1="79.30" x2="526.40" y2="120.30" stroke="#1e1e1e" stroke-width="1.3"/>
<rect x="689.60" y="73.40" width="44.70" height="69.60" rx="0.5" stroke="#1e1e1e" stroke-width="1.3" fill="none"/>
<line x1="690.20" y1="79.40" x2="690.20" y2="143.00" stroke="#1e1e1e" stroke-width="2"/>
<line x1="698.40" y1="78.60" x2="734.30" y2="78.60" stroke="#1e1e1e" stroke-width="1.2"/>
<line x1="698.40" y1="80.00" x2="698.40" y2="143.00" stroke="#1e1e1e" stroke-width="1.3"/>
<line x1="689.60" y1="80.00" x2="698.40" y2="80.00" stroke="#1e1e1e" stroke-width="1.8"/>
<line x1="698.40" y1="82.40" x2="734.30" y2="82.40" stroke="#1e1e1e" stroke-width="1.3"/>
<line x1="698.40" y1="93.20" x2="734.30" y2="93.20" stroke="#8f8f8f" stroke-width="1.6"/>
<rect x="751.70" y="73.40" width="43.90" height="69.60" rx="0.5" stroke="#1e1e1e" stroke-width="1.3" fill="none"/>
<line x1="795.00" y1="79.40" x2="795.00" y2="143.00" stroke="#1e1e1e" stroke-width="2"/>
<line x1="751.70" y1="78.60" x2="786.80" y2="78.60" stroke="#1e1e1e" stroke-width="1.2"/>
<line x1="786.80" y1="80.00" x2="786.80" y2="143.00" stroke="#1e1e1e" stroke-width="1.3"/>
<line x1="786.80" y1="80.00" x2="795.60" y2="80.00" stroke="#1e1e1e" stroke-width="1.8"/>
<line x1="751.70" y1="82.40" x2="786.80" y2="82.40" stroke="#1e1e1e" stroke-width="1.3"/>
<line x1="751.70" y1="93.20" x2="786.80" y2="93.20" stroke="#8f8f8f" stroke-width="1.6"/>
<rect x="73.50" y="212.10" width="44.20" height="46.30" rx="0.5" stroke="#1e1e1e" stroke-width="1.3" fill="none"/>
<line x1="73.80" y1="212.10" x2="73.80" y2="258.40" stroke="#000" stroke-width="2.2"/>
<line x1="73.50" y1="212.40" x2="82.60" y2="212.40" stroke="#000" stroke-width="2.0"/>
<line x1="73.50" y1="258.10" x2="82.60" y2="258.10" stroke="#000" stroke-width="2.0"/>
<line x1="82.60" y1="212.10" x2="82.60" y2="258.40" stroke="#2a2a2a" stroke-width="1.5"/>
<line x1="82.60" y1="217.50" x2="117.70" y2="217.50" stroke="#8f8f8f" stroke-width="1.6"/>
<line x1="82.60" y1="220.90" x2="117.70" y2="220.90" stroke="#1e1e1e" stroke-width="1.3"/>
<line x1="82.60" y1="231.80" x2="117.70" y2="231.80" stroke="#8f8f8f" stroke-width="1.6"/>
<rect x="137.00" y="212.10" width="43.40" height="46.30" rx="0.5" stroke="#1e1e1e" stroke-width="1.3" fill="none"/>
<line x1="180.10" y1="212.10" x2="180.10" y2="258.40" stroke="#111" stroke-width="1.8"/>
<line x1="173.30" y1="212.40" x2="180.40" y2="212.40" stroke="#000" stroke-width="2.0"/>
<line x1="173.30" y1="258.10" x2="180.40" y2="258.10" stroke="#000" stroke-width="2.0"/>
<line x1="173.30" y1="212.10" x2="173.30" y2="258.40" stroke="#2a2a2a" stroke-width="1.5"/>
<line x1="137.00" y1="217.50" x2="173.30" y2="217.50" stroke="#8f8f8f" stroke-width="1.6"/>
<line x1="137.00" y1="220.90" x2="173.30" y2="220.90" stroke="#1e1e1e" stroke-width="1.3"/>
<line x1="137.00" y1="231.80" x2="173.30" y2="231.80" stroke="#8f8f8f" stroke-width="1.6"/>
<rect x="274.60" y="212.10" width="78.60" height="46.30" rx="0.5" stroke="#1e1e1e" stroke-width="1.3" fill="none"/>
<line x1="274.90" y1="212.10" x2="274.90" y2="258.40" stroke="#222" stroke-width="1.4"/>
<line x1="274.60" y1="212.40" x2="283.20" y2="212.40" stroke="#000" stroke-width="2.0"/>
<line x1="274.60" y1="258.10" x2="283.20" y2="258.10" stroke="#000" stroke-width="2.0"/>
<line x1="283.20" y1="212.10" x2="283.20" y2="258.40" stroke="#2a2a2a" stroke-width="1.5"/>
<line x1="283.20" y1="217.50" x2="353.20" y2="217.50" stroke="#8f8f8f" stroke-width="1.6"/>
<line x1="283.20" y1="220.90" x2="353.20" y2="220.90" stroke="#1e1e1e" stroke-width="1.3"/>
<line x1="318.00" y1="217.50" x2="318.00" y2="258.40" stroke="#1e1e1e" stroke-width="1.3"/>
<line x1="283.20" y1="231.80" x2="353.20" y2="231.80" stroke="#8f8f8f" stroke-width="1.6"/>
<rect x="379.60" y="212.10" width="78.40" height="46.30" rx="0.5" stroke="#1e1e1e" stroke-width="1.3" fill="none"/>
<line x1="457.70" y1="212.10" x2="457.70" y2="258.40" stroke="#333" stroke-width="1.5"/>
<line x1="450.00" y1="212.40" x2="458.00" y2="212.40" stroke="#000" stroke-width="2.0"/>
<line x1="450.00" y1="258.10" x2="458.00" y2="258.10" stroke="#000" stroke-width="2.0"/>
<line x1="450.00" y1="212.10" x2="450.00" y2="258.40" stroke="#2a2a2a" stroke-width="1.5"/>
<line x1="379.60" y1="217.50" x2="450.00" y2="217.50" stroke="#8f8f8f" stroke-width="1.6"/>
<line x1="379.60" y1="220.90" x2="450.00" y2="220.90" stroke="#1e1e1e" stroke-width="1.3"/>
<line x1="414.70" y1="217.50" x2="414.70" y2="258.40" stroke="#1e1e1e" stroke-width="1.3"/>
<line x1="379.60" y1="231.80" x2="450.00" y2="231.80" stroke="#8f8f8f" stroke-width="1.6"/>
<rect x="553.00" y="212.10" width="114.00" height="46.50" rx="0.5" stroke="#1e1e1e" stroke-width="1.3" fill="none"/>
<line x1="553.30" y1="212.10" x2="553.30" y2="258.60" stroke="#444" stroke-width="1.4"/>
<line x1="553.00" y1="212.40" x2="561.80" y2="212.40" stroke="#000" stroke-width="2.0"/>
<line x1="553.00" y1="258.30" x2="561.80" y2="258.30" stroke="#000" stroke-width="2.0"/>
<line x1="561.80" y1="212.10" x2="561.80" y2="258.60" stroke="#2a2a2a" stroke-width="1.5"/>
<line x1="561.80" y1="217.50" x2="667.00" y2="217.50" stroke="#8f8f8f" stroke-width="1.6"/>
<line x1="565.80" y1="221.00" x2="593.00" y2="221.00" stroke="#444" stroke-width="1.5"/>
<line x1="600.60" y1="221.00" x2="627.60" y2="221.00" stroke="#444" stroke-width="1.5"/>
<line x1="635.20" y1="221.00" x2="663.40" y2="221.00" stroke="#444" stroke-width="1.5"/>
<line x1="596.60" y1="212.10" x2="596.60" y2="258.60" stroke="#1e1e1e" stroke-width="1.3"/>
<line x1="631.20" y1="212.10" x2="631.20" y2="258.60" stroke="#1e1e1e" stroke-width="1.3"/>
<line x1="561.80" y1="231.80" x2="667.00" y2="231.80" stroke="#8f8f8f" stroke-width="1.6"/>
<rect x="690.30" y="212.10" width="114.20" height="46.50" rx="0.5" stroke="#1e1e1e" stroke-width="1.3" fill="none"/>
<line x1="804.20" y1="212.10" x2="804.20" y2="258.60" stroke="#000" stroke-width="2.2"/>
<line x1="795.80" y1="212.40" x2="804.50" y2="212.40" stroke="#000" stroke-width="2.0"/>
<line x1="795.80" y1="258.30" x2="804.50" y2="258.30" stroke="#000" stroke-width="2.0"/>
<line x1="795.80" y1="212.10" x2="795.80" y2="258.60" stroke="#2a2a2a" stroke-width="1.5"/>
<line x1="690.30" y1="217.50" x2="795.80" y2="217.50" stroke="#8f8f8f" stroke-width="1.6"/>
<line x1="694.30" y1="221.00" x2="722.10" y2="221.00" stroke="#444" stroke-width="1.5"/>
<line x1="729.70" y1="221.00" x2="757.40" y2="221.00" stroke="#444" stroke-width="1.5"/>
<line x1="765.00" y1="221.00" x2="792.20" y2="221.00" stroke="#444" stroke-width="1.5"/>
<line x1="725.70" y1="212.10" x2="725.70" y2="258.60" stroke="#1e1e1e" stroke-width="1.3"/>
<line x1="761.00" y1="212.10" x2="761.00" y2="258.60" stroke="#1e1e1e" stroke-width="1.3"/>
<line x1="690.30" y1="231.80" x2="795.80" y2="231.80" stroke="#8f8f8f" stroke-width="1.6"/>
<rect x="32.20" y="345.40" width="109.60" height="46.70" rx="2" stroke="#1e1e1e" stroke-width="1.3" fill="none"/>
<line x1="53.60" y1="345.40" x2="53.60" y2="392.10" stroke="#1e1e1e" stroke-width="1.3"/>
<line x1="53.60" y1="350.80" x2="134.80" y2="350.80" stroke="#8f8f8f" stroke-width="1.6"/>
<line x1="134.80" y1="350.80" x2="134.80" y2="392.10" stroke="#8f8f8f" stroke-width="1.6"/>
<line x1="57.60" y1="354.40" x2="85.80" y2="354.40" stroke="#1e1e1e" stroke-width="1.2"/>
<line x1="92.90" y1="354.40" x2="128.80" y2="354.40" stroke="#1e1e1e" stroke-width="1.2"/>
<line x1="89.30" y1="350.80" x2="89.30" y2="392.10" stroke="#1e1e1e" stroke-width="1.3"/>
<line x1="53.60" y1="365.20" x2="120.40" y2="365.20" stroke="#1e1e1e" stroke-width="1.3"/>
<line x1="120.40" y1="365.20" x2="130.40" y2="353.20" stroke="#1e1e1e" stroke-width="1.2"/>
<line x1="120.40" y1="365.20" x2="120.40" y2="392.10" stroke="#1e1e1e" stroke-width="1.2"/>
<line x1="131.20" y1="355.20" x2="131.20" y2="388.40" stroke="#1e1e1e" stroke-width="1.3"/>
<rect x="142.10" y="344.50" width="3.60" height="48.50" fill="#eeee10"/>
<rect x="152.30" y="344.50" width="3.90" height="48.50" fill="#eeee10"/>
<rect x="156.70" y="345.40" width="109.10" height="46.70" rx="2" stroke="#1e1e1e" stroke-width="1.3" fill="none"/>
<line x1="244.70" y1="345.40" x2="244.70" y2="392.10" stroke="#1e1e1e" stroke-width="1.3"/>
<line x1="244.70" y1="350.80" x2="163.70" y2="350.80" stroke="#8f8f8f" stroke-width="1.6"/>
<line x1="163.70" y1="350.80" x2="163.70" y2="392.10" stroke="#8f8f8f" stroke-width="1.6"/>
<line x1="240.70" y1="354.40" x2="211.80" y2="354.40" stroke="#1e1e1e" stroke-width="1.2"/>
<line x1="204.70" y1="354.40" x2="169.70" y2="354.40" stroke="#1e1e1e" stroke-width="1.2"/>
<line x1="208.30" y1="350.80" x2="208.30" y2="392.10" stroke="#1e1e1e" stroke-width="1.3"/>
<line x1="244.70" y1="365.20" x2="178.10" y2="365.20" stroke="#1e1e1e" stroke-width="1.3"/>
<line x1="178.10" y1="365.20" x2="168.10" y2="353.20" stroke="#1e1e1e" stroke-width="1.2"/>
<line x1="178.10" y1="365.20" x2="178.10" y2="392.10" stroke="#1e1e1e" stroke-width="1.2"/>
<line x1="167.30" y1="355.20" x2="167.30" y2="388.40" stroke="#1e1e1e" stroke-width="1.3"/>
<rect x="345.00" y="345.40" width="21.50" height="46.70" fill="url(#tex)"/>
<rect x="345.00" y="345.40" width="108.30" height="46.70" rx="2" stroke="#1e1e1e" stroke-width="1.3" fill="none"/>
<line x1="366.50" y1="345.40" x2="366.50" y2="392.10" stroke="#1e1e1e" stroke-width="1.3"/>
<line x1="366.50" y1="350.80" x2="446.30" y2="350.80" stroke="#8f8f8f" stroke-width="1.6"/>
<line x1="446.30" y1="350.80" x2="446.30" y2="392.10" stroke="#8f8f8f" stroke-width="1.6"/>
<line x1="370.50" y1="354.40" x2="398.00" y2="354.40" stroke="#1e1e1e" stroke-width="1.2"/>
<line x1="405.10" y1="354.40" x2="440.30" y2="354.40" stroke="#1e1e1e" stroke-width="1.2"/>
<line x1="401.50" y1="350.80" x2="401.50" y2="392.10" stroke="#1e1e1e" stroke-width="1.3"/>
<line x1="366.50" y1="365.20" x2="431.90" y2="365.20" stroke="#1e1e1e" stroke-width="1.3"/>
<line x1="431.90" y1="365.20" x2="441.90" y2="353.20" stroke="#1e1e1e" stroke-width="1.2"/>
<line x1="431.90" y1="365.20" x2="431.90" y2="392.10" stroke="#1e1e1e" stroke-width="1.2"/>
<line x1="442.70" y1="355.20" x2="442.70" y2="388.40" stroke="#1e1e1e" stroke-width="1.3"/>
<rect x="454.20" y="344.50" width="3.60" height="48.50" fill="#eeee10"/>
<rect x="464.90" y="344.50" width="4.50" height="48.50" fill="#eeee10"/>
<rect x="556.90" y="345.40" width="22.20" height="46.70" fill="url(#tex)"/>
<rect x="469.80" y="345.40" width="109.30" height="46.70" rx="2" stroke="#1e1e1e" stroke-width="1.3" fill="none"/>
<line x1="556.90" y1="345.40" x2="556.90" y2="392.10" stroke="#1e1e1e" stroke-width="1.3"/>
<line x1="556.90" y1="350.80" x2="476.80" y2="350.80" stroke="#8f8f8f" stroke-width="1.6"/>
<line x1="476.80" y1="350.80" x2="476.80" y2="392.10" stroke="#8f8f8f" stroke-width="1.6"/>
<line x1="552.90" y1="354.40" x2="525.60" y2="354.40" stroke="#1e1e1e" stroke-width="1.2"/>
<line x1="518.50" y1="354.40" x2="482.80" y2="354.40" stroke="#1e1e1e" stroke-width="1.2"/>
<line x1="522.10" y1="350.80" x2="522.10" y2="392.10" stroke="#1e1e1e" stroke-width="1.3"/>
<line x1="556.90" y1="365.20" x2="491.20" y2="365.20" stroke="#1e1e1e" stroke-width="1.3"/>
<line x1="491.20" y1="365.20" x2="481.20" y2="353.20" stroke="#1e1e1e" stroke-width="1.2"/>
<line x1="491.20" y1="365.20" x2="491.20" y2="392.10" stroke="#1e1e1e" stroke-width="1.2"/>
<line x1="480.40" y1="355.20" x2="480.40" y2="388.40" stroke="#1e1e1e" stroke-width="1.3"/>
<rect x="654.00" y="345.40" width="104.40" height="46.70" rx="2" stroke="#1e1e1e" stroke-width="1.3" fill="none"/>
<line x1="671.40" y1="345.40" x2="671.40" y2="392.10" stroke="#1e1e1e" stroke-width="1.3"/>
<line x1="671.40" y1="350.80" x2="751.40" y2="350.80" stroke="#8f8f8f" stroke-width="1.6"/>
<line x1="751.40" y1="350.80" x2="751.40" y2="392.10" stroke="#8f8f8f" stroke-width="1.6"/>
<line x1="675.40" y1="354.40" x2="703.00" y2="354.40" stroke="#1e1e1e" stroke-width="1.2"/>
<line x1="710.10" y1="354.40" x2="745.40" y2="354.40" stroke="#1e1e1e" stroke-width="1.2"/>
<line x1="706.50" y1="350.80" x2="706.50" y2="392.10" stroke="#1e1e1e" stroke-width="1.3"/>
<line x1="671.40" y1="365.20" x2="737.00" y2="365.20" stroke="#1e1e1e" stroke-width="1.3"/>
<line x1="737.00" y1="365.20" x2="747.00" y2="353.20" stroke="#1e1e1e" stroke-width="1.2"/>
<line x1="737.00" y1="365.20" x2="737.00" y2="392.10" stroke="#1e1e1e" stroke-width="1.2"/>
<line x1="747.80" y1="355.20" x2="747.80" y2="388.40" stroke="#1e1e1e" stroke-width="1.3"/>
<rect x="759.00" y="344.50" width="3.40" height="48.50" fill="#eeee10"/>
<rect x="769.50" y="344.50" width="3.50" height="48.50" fill="#eeee10"/>
<rect x="773.40" y="345.40" width="104.10" height="46.70" rx="2" stroke="#1e1e1e" stroke-width="1.3" fill="none"/>
<line x1="860.00" y1="345.40" x2="860.00" y2="392.10" stroke="#1e1e1e" stroke-width="1.3"/>
<line x1="860.00" y1="350.80" x2="780.40" y2="350.80" stroke="#8f8f8f" stroke-width="1.6"/>
<line x1="780.40" y1="350.80" x2="780.40" y2="392.10" stroke="#8f8f8f" stroke-width="1.6"/>
<line x1="856.00" y1="354.40" x2="828.50" y2="354.40" stroke="#1e1e1e" stroke-width="1.2"/>
<line x1="821.40" y1="354.40" x2="786.40" y2="354.40" stroke="#1e1e1e" stroke-width="1.2"/>
<line x1="825.00" y1="350.80" x2="825.00" y2="392.10" stroke="#1e1e1e" stroke-width="1.3"/>
<line x1="860.00" y1="365.20" x2="794.80" y2="365.20" stroke="#1e1e1e" stroke-width="1.3"/>
<line x1="794.80" y1="365.20" x2="784.80" y2="353.20" stroke="#1e1e1e" stroke-width="1.2"/>
<line x1="794.80" y1="365.20" x2="794.80" y2="392.10" stroke="#1e1e1e" stroke-width="1.2"/>
<line x1="784.00" y1="355.20" x2="784.00" y2="388.40" stroke="#1e1e1e" stroke-width="1.3"/>
<rect x="33.30" y="475.30" width="57.30" height="45.10" rx="0" stroke="#1e1e1e" stroke-width="1.3" fill="none"/>
<line x1="54.80" y1="475.30" x2="54.80" y2="520.40" stroke="#1e1e1e" stroke-width="1.3"/>
<line x1="54.80" y1="480.10" x2="90.60" y2="480.10" stroke="#555" stroke-width="1.2"/>
<line x1="59.50" y1="484.30" x2="86.70" y2="484.30" stroke="#333" stroke-width="1.3"/>
<line x1="54.80" y1="494.90" x2="90.60" y2="494.90" stroke="#8f8f8f" stroke-width="1.6"/>
<rect x="103.00" y="475.30" width="57.40" height="45.10" rx="0" stroke="#1e1e1e" stroke-width="1.3" fill="none"/>
<line x1="138.40" y1="475.30" x2="138.40" y2="520.40" stroke="#1e1e1e" stroke-width="1.3"/>
<line x1="138.40" y1="480.10" x2="103.00" y2="480.10" stroke="#555" stroke-width="1.2"/>
<line x1="133.70" y1="484.30" x2="106.90" y2="484.30" stroke="#333" stroke-width="1.3"/>
<line x1="138.40" y1="494.90" x2="103.00" y2="494.90" stroke="#8f8f8f" stroke-width="1.6"/>
<rect x="247.00" y="475.30" width="21.60" height="45.10" fill="url(#tex)"/>
<rect x="247.00" y="475.30" width="56.60" height="45.10" rx="0" stroke="#1e1e1e" stroke-width="1.3" fill="none"/>
<line x1="268.60" y1="475.30" x2="268.60" y2="520.40" stroke="#1e1e1e" stroke-width="1.3"/>
<line x1="268.60" y1="480.10" x2="303.60" y2="480.10" stroke="#555" stroke-width="1.2"/>
<line x1="273.30" y1="484.30" x2="299.70" y2="484.30" stroke="#333" stroke-width="1.3"/>
<line x1="268.60" y1="494.90" x2="303.60" y2="494.90" stroke="#8f8f8f" stroke-width="1.6"/>
<rect x="367.60" y="475.30" width="22.00" height="45.10" fill="url(#tex)"/>
<rect x="333.00" y="475.30" width="56.60" height="45.10" rx="0" stroke="#1e1e1e" stroke-width="1.3" fill="none"/>
<line x1="367.60" y1="475.30" x2="367.60" y2="520.40" stroke="#1e1e1e" stroke-width="1.3"/>
<line x1="367.60" y1="480.10" x2="333.00" y2="480.10" stroke="#555" stroke-width="1.2"/>
<line x1="362.90" y1="484.30" x2="336.90" y2="484.30" stroke="#333" stroke-width="1.3"/>
<line x1="367.60" y1="494.90" x2="333.00" y2="494.90" stroke="#8f8f8f" stroke-width="1.6"/>
<rect x="459.40" y="475.30" width="53.00" height="45.10" rx="0" stroke="#1e1e1e" stroke-width="1.3" fill="none"/>
<line x1="477.40" y1="475.30" x2="477.40" y2="520.40" stroke="#1e1e1e" stroke-width="1.3"/>
<line x1="477.40" y1="480.10" x2="512.40" y2="480.10" stroke="#555" stroke-width="1.2"/>
<line x1="482.10" y1="484.30" x2="508.50" y2="484.30" stroke="#333" stroke-width="1.3"/>
<line x1="477.40" y1="494.90" x2="512.40" y2="494.90" stroke="#8f8f8f" stroke-width="1.6"/>
<rect x="542.60" y="475.30" width="53.00" height="45.10" rx="0" stroke="#1e1e1e" stroke-width="1.3" fill="none"/>
<line x1="578.00" y1="475.30" x2="578.00" y2="520.40" stroke="#1e1e1e" stroke-width="1.3"/>
<line x1="578.00" y1="480.10" x2="542.60" y2="480.10" stroke="#555" stroke-width="1.2"/>
<line x1="573.30" y1="484.30" x2="546.50" y2="484.30" stroke="#333" stroke-width="1.3"/>
<line x1="578.00" y1="494.90" x2="542.60" y2="494.90" stroke="#8f8f8f" stroke-width="1.6"/>
<rect x="698.30" y="474.30" width="44.00" height="45.90" fill="url(#tex)"/>
<rect x="698.30" y="474.30" width="79.50" height="45.90" rx="0" stroke="#1e1e1e" stroke-width="1.3" fill="none"/>
<line x1="742.30" y1="474.30" x2="742.30" y2="520.20" stroke="#1e1e1e" stroke-width="1.3"/>
<line x1="742.30" y1="479.10" x2="777.80" y2="479.10" stroke="#555" stroke-width="1.2"/>
<line x1="747.00" y1="483.30" x2="773.90" y2="483.30" stroke="#333" stroke-width="1.3"/>
<line x1="742.30" y1="493.90" x2="777.80" y2="493.90" stroke="#8f8f8f" stroke-width="1.6"/>
<rect x="834.00" y="474.30" width="43.60" height="45.90" fill="url(#tex)"/>
<rect x="799.30" y="474.30" width="78.30" height="45.90" rx="0" stroke="#1e1e1e" stroke-width="1.3" fill="none"/>
<line x1="834.00" y1="474.30" x2="834.00" y2="520.20" stroke="#1e1e1e" stroke-width="1.3"/>
<line x1="834.00" y1="479.10" x2="799.30" y2="479.10" stroke="#555" stroke-width="1.2"/>
<line x1="829.30" y1="483.30" x2="803.20" y2="483.30" stroke="#333" stroke-width="1.3"/>
<line x1="834.00" y1="493.90" x2="799.30" y2="493.90" stroke="#8f8f8f" stroke-width="1.6"/>
<rect x="36.30" y="615.50" width="92.00" height="46.50" rx="0" stroke="#1e1e1e" stroke-width="1.3" fill="none"/>
<line x1="57.60" y1="615.50" x2="57.60" y2="662.00" stroke="#1e1e1e" stroke-width="1.3"/>
<line x1="93.60" y1="615.50" x2="93.60" y2="662.00" stroke="#1e1e1e" stroke-width="1.3"/>
<line x1="57.60" y1="621.10" x2="128.30" y2="621.10" stroke="#555" stroke-width="1.2"/>
<line x1="62.30" y1="625.20" x2="89.20" y2="625.20" stroke="#333" stroke-width="1.3"/>
<line x1="97.20" y1="625.20" x2="125.00" y2="625.20" stroke="#333" stroke-width="1.3"/>
<line x1="57.60" y1="635.00" x2="128.30" y2="635.00" stroke="#6a6a6a" stroke-width="1.4"/>
<rect x="156.70" y="615.80" width="91.60" height="46.20" rx="0" stroke="#1e1e1e" stroke-width="1.3" fill="none"/>
<line x1="226.00" y1="615.80" x2="226.00" y2="662.00" stroke="#1e1e1e" stroke-width="1.3"/>
<line x1="191.70" y1="615.80" x2="191.70" y2="662.00" stroke="#1e1e1e" stroke-width="1.3"/>
<line x1="226.00" y1="621.40" x2="156.70" y2="621.40" stroke="#555" stroke-width="1.2"/>
<line x1="221.30" y1="625.50" x2="196.10" y2="625.50" stroke="#333" stroke-width="1.3"/>
<line x1="188.10" y1="625.50" x2="160.00" y2="625.50" stroke="#333" stroke-width="1.3"/>
<line x1="226.00" y1="635.30" x2="156.70" y2="635.30" stroke="#6a6a6a" stroke-width="1.4"/>
<rect x="368.90" y="615.80" width="21.90" height="46.20" fill="url(#tex)"/>
<rect x="368.90" y="615.80" width="92.10" height="46.20" rx="0" stroke="#1e1e1e" stroke-width="1.3" fill="none"/>
<line x1="390.80" y1="615.80" x2="390.80" y2="662.00" stroke="#1e1e1e" stroke-width="1.3"/>
<line x1="426.40" y1="615.80" x2="426.40" y2="662.00" stroke="#1e1e1e" stroke-width="1.3"/>
<line x1="390.80" y1="621.40" x2="461.00" y2="621.40" stroke="#555" stroke-width="1.2"/>
<line x1="395.50" y1="625.50" x2="422.00" y2="625.50" stroke="#333" stroke-width="1.3"/>
<line x1="430.00" y1="625.50" x2="457.70" y2="625.50" stroke="#333" stroke-width="1.3"/>
<line x1="390.80" y1="635.30" x2="461.00" y2="635.30" stroke="#6a6a6a" stroke-width="1.4"/>
<rect x="555.00" y="615.80" width="22.80" height="46.20" fill="url(#tex)"/>
<rect x="485.30" y="615.80" width="92.50" height="46.20" rx="0" stroke="#1e1e1e" stroke-width="1.3" fill="none"/>
<line x1="555.00" y1="615.80" x2="555.00" y2="662.00" stroke="#1e1e1e" stroke-width="1.3"/>
<line x1="520.30" y1="615.80" x2="520.30" y2="662.00" stroke="#1e1e1e" stroke-width="1.3"/>
<line x1="555.00" y1="621.40" x2="485.30" y2="621.40" stroke="#555" stroke-width="1.2"/>
<line x1="550.30" y1="625.50" x2="524.70" y2="625.50" stroke="#333" stroke-width="1.3"/>
<line x1="516.70" y1="625.50" x2="488.60" y2="625.50" stroke="#333" stroke-width="1.3"/>
<line x1="555.00" y1="635.30" x2="485.30" y2="635.30" stroke="#6a6a6a" stroke-width="1.4"/>
<rect x="685.30" y="615.80" width="87.50" height="46.20" rx="0" stroke="#1e1e1e" stroke-width="1.3" fill="none"/>
<line x1="703.30" y1="615.80" x2="703.30" y2="662.00" stroke="#1e1e1e" stroke-width="1.3"/>
<line x1="738.30" y1="615.80" x2="738.30" y2="662.00" stroke="#1e1e1e" stroke-width="1.3"/>
<line x1="703.30" y1="621.40" x2="772.80" y2="621.40" stroke="#555" stroke-width="1.2"/>
<line x1="708.00" y1="625.50" x2="733.90" y2="625.50" stroke="#333" stroke-width="1.3"/>
<line x1="741.90" y1="625.50" x2="769.50" y2="625.50" stroke="#333" stroke-width="1.3"/>
<line x1="703.30" y1="635.30" x2="772.80" y2="635.30" stroke="#6a6a6a" stroke-width="1.4"/>
<rect x="790.30" y="615.80" width="87.50" height="46.20" rx="0" stroke="#1e1e1e" stroke-width="1.3" fill="none"/>
<line x1="860.30" y1="615.80" x2="860.30" y2="662.00" stroke="#1e1e1e" stroke-width="1.3"/>
<line x1="825.00" y1="615.80" x2="825.00" y2="662.00" stroke="#1e1e1e" stroke-width="1.3"/>
<line x1="860.30" y1="621.40" x2="790.30" y2="621.40" stroke="#555" stroke-width="1.2"/>
<line x1="855.60" y1="625.50" x2="829.40" y2="625.50" stroke="#333" stroke-width="1.3"/>
<line x1="821.40" y1="625.50" x2="793.60" y2="625.50" stroke="#333" stroke-width="1.3"/>
<line x1="860.30" y1="635.30" x2="790.30" y2="635.30" stroke="#6a6a6a" stroke-width="1.4"/>
<text transform="translate(93.28 60.00) scale(0.88 1)" stroke="#111" stroke-width="0.7" font-family="Liberation Sans" font-weight="normal" font-style="normal" font-size="18" fill="#111" textLength="36.82" lengthAdjust="spacing">E22</text>
<text transform="translate(104.90 140.80) scale(0.94 1)" font-family="Liberation Sans" font-weight="normal" font-style="italic" font-size="12" fill="#2a2a2a">80</text>
<text transform="translate(104.90 151.90) scale(0.94 1)" font-family="Liberation Sans" font-weight="normal" font-style="italic" font-size="12" fill="#2a2a2a">31"</text>
<text transform="translate(275.70 60.04) scale(0.88 1)" stroke="#111" stroke-width="0.7" font-family="Liberation Sans" font-weight="normal" font-style="normal" font-size="18" fill="#111" textLength="37.48" lengthAdjust="spacing">E24</text>
<text transform="translate(285.10 141.00) scale(0.94 1)" font-family="Liberation Sans" font-weight="normal" font-style="italic" font-size="12" fill="#2a2a2a">160</text>
<text transform="translate(285.10 151.80) scale(0.94 1)" font-family="Liberation Sans" font-weight="normal" font-style="italic" font-size="12" fill="#2a2a2a">63"</text>
<text transform="translate(489.74 59.96) scale(0.88 1)" stroke="#111" stroke-width="0.7" font-family="Liberation Sans" font-weight="normal" font-style="normal" font-size="18" fill="#111" textLength="38.00" lengthAdjust="spacing">E58</text>
<text transform="translate(498.70 141.00) scale(0.94 1)" font-family="Liberation Sans" font-weight="normal" font-style="italic" font-size="12" fill="#2a2a2a">240</text>
<text transform="translate(498.70 152.00) scale(0.94 1)" font-family="Liberation Sans" font-weight="normal" font-style="italic" font-size="12" fill="#2a2a2a">94"</text>
<text transform="translate(659.20 41.60) scale(0.85 1)" stroke="#cc3d4c" stroke-width="0.12" font-family="Liberation Sans" font-weight="normal" font-style="normal" font-size="9.6" fill="#cc3d4c" textLength="192.09" lengthAdjust="spacing">BOOKRACK BACKREST - NOT POSSIBLE</text>
<text transform="translate(692.20 61.00) scale(0.88 1)" stroke="#111" stroke-width="0.7" font-family="Liberation Sans" font-weight="normal" font-style="normal" font-size="18" fill="#111" textLength="38.00" lengthAdjust="spacing">S29</text>
<text transform="translate(752.32 61.00) scale(0.88 1)" stroke="#111" stroke-width="0.7" font-family="Liberation Sans" font-weight="normal" font-style="normal" font-size="18" fill="#111" textLength="42.27" lengthAdjust="spacing">D29</text>
<text transform="translate(662.00 106.10) scale(0.94 1)" font-family="Liberation Sans" font-weight="normal" font-style="italic" font-size="12" fill="#2a2a2a">160</text>
<text transform="translate(662.00 117.70) scale(0.94 1)" font-family="Liberation Sans" font-weight="normal" font-style="italic" font-size="12" fill="#2a2a2a">63"</text>
<text transform="translate(705.50 162.60) scale(0.94 1)" font-family="Liberation Sans" font-weight="normal" font-style="italic" font-size="12" fill="#2a2a2a">100</text>
<text transform="translate(705.50 174.20) scale(0.94 1)" font-family="Liberation Sans" font-weight="normal" font-style="italic" font-size="12" fill="#2a2a2a">39"</text>
<text transform="translate(765.20 162.60) scale(0.94 1)" font-family="Liberation Sans" font-weight="normal" font-style="italic" font-size="12" fill="#2a2a2a">100</text>
<text transform="translate(765.20 174.20) scale(0.94 1)" font-family="Liberation Sans" font-weight="normal" font-style="italic" font-size="12" fill="#2a2a2a">39"</text>
<text transform="translate(78.54 197.54) scale(0.88 1)" stroke="#111" stroke-width="0.7" font-family="Liberation Sans" font-weight="normal" font-style="normal" font-size="18" fill="#111" textLength="36.95" lengthAdjust="spacing">S23</text>
<text transform="translate(87.50 279.50) scale(0.94 1)" font-family="Liberation Sans" font-weight="normal" font-style="italic" font-size="12" fill="#2a2a2a">100</text>
<text transform="translate(87.50 291.00) scale(0.94 1)" font-family="Liberation Sans" font-weight="normal" font-style="italic" font-size="12" fill="#2a2a2a">39"</text>
<text transform="translate(141.74 197.54) scale(0.88 1)" stroke="#111" stroke-width="0.7" font-family="Liberation Sans" font-weight="normal" font-style="normal" font-size="18" fill="#111" textLength="41.27" lengthAdjust="spacing">D23</text>
<text transform="translate(149.50 279.50) scale(0.94 1)" font-family="Liberation Sans" font-weight="normal" font-style="italic" font-size="12" fill="#2a2a2a">100</text>
<text transform="translate(149.50 291.00) scale(0.94 1)" font-family="Liberation Sans" font-weight="normal" font-style="italic" font-size="12" fill="#2a2a2a">39"</text>
<text transform="translate(301.54 197.54) scale(0.88 1)" stroke="#111" stroke-width="0.7" font-family="Liberation Sans" font-weight="normal" font-style="normal" font-size="18" fill="#111" textLength="37.52" lengthAdjust="spacing">S21</text>
<text transform="translate(306.90 280.90) scale(0.94 1)" font-family="Liberation Sans" font-weight="normal" font-style="italic" font-size="12" fill="#2a2a2a">180</text>
<text transform="translate(306.90 292.70) scale(0.94 1)" font-family="Liberation Sans" font-weight="normal" font-style="italic" font-size="12" fill="#2a2a2a">71"</text>
<text transform="translate(400.74 197.54) scale(0.88 1)" stroke="#111" stroke-width="0.7" font-family="Liberation Sans" font-weight="normal" font-style="normal" font-size="18" fill="#111" textLength="42.36" lengthAdjust="spacing">D21</text>
<text transform="translate(406.60 280.90) scale(0.94 1)" font-family="Liberation Sans" font-weight="normal" font-style="italic" font-size="12" fill="#2a2a2a">180</text>
<text transform="translate(406.60 292.70) scale(0.94 1)" font-family="Liberation Sans" font-weight="normal" font-style="italic" font-size="12" fill="#2a2a2a">71"</text>
<text transform="translate(599.50 200.54) scale(0.88 1)" stroke="#111" stroke-width="0.7" font-family="Liberation Sans" font-weight="normal" font-style="normal" font-size="18" fill="#111" textLength="35.95" lengthAdjust="spacing">S27</text>
<text transform="translate(606.80 279.50) scale(0.94 1)" font-family="Liberation Sans" font-weight="normal" font-style="italic" font-size="12" fill="#2a2a2a">260</text>
<text transform="translate(606.80 291.30) scale(0.94 1)" font-family="Liberation Sans" font-weight="normal" font-style="italic" font-size="12" fill="#2a2a2a">102"</text>
<text transform="translate(725.20 200.54) scale(0.88 1)" stroke="#111" stroke-width="0.7" font-family="Liberation Sans" font-weight="normal" font-style="normal" font-size="18" fill="#111" textLength="40.70" lengthAdjust="spacing">D27</text>
<text transform="translate(735.70 279.50) scale(0.94 1)" font-family="Liberation Sans" font-weight="normal" font-style="italic" font-size="12" fill="#2a2a2a">260</text>
<text transform="translate(735.70 291.30) scale(0.94 1)" font-family="Liberation Sans" font-weight="normal" font-style="italic" font-size="12" fill="#2a2a2a">102"</text>
<text transform="translate(114.60 314.40) scale(0.85 1)" stroke="#c97444" stroke-width="0.12" font-family="Liberation Sans" font-weight="normal" font-style="normal" font-size="9.6" fill="#c97444" textLength="102.44" lengthAdjust="spacing">BOOKRACK CORNER</text>
<text transform="translate(59.16 331.96) scale(0.88 1)" stroke="#111" stroke-width="0.7" font-family="Liberation Sans" font-weight="normal" font-style="normal" font-size="18" fill="#111" textLength="67.64" lengthAdjust="spacing">S<tspan fill="#8e2030" stroke="#8e2030">P</tspan>038</text>
<text transform="translate(189.20 331.96) scale(0.88 1)" stroke="#111" stroke-width="0.7" font-family="Liberation Sans" font-weight="normal" font-style="normal" font-size="18" fill="#111" textLength="69.73" lengthAdjust="spacing">D<tspan fill="#8e2030" stroke="#8e2030">P</tspan>038</text>
<text transform="translate(32.40 410.60) scale(0.82 1)" stroke="#2a2a2a" stroke-width="0.3" font-family="Liberation Sans" font-weight="normal" font-style="italic" font-size="11.5" fill="#2a2a2a" textLength="31.62" lengthAdjust="spacing">POUF</text>
<text transform="translate(242.00 410.60) scale(0.82 1)" stroke="#2a2a2a" stroke-width="0.3" font-family="Liberation Sans" font-weight="normal" font-style="italic" font-size="11.5" fill="#2a2a2a" textLength="31.26" lengthAdjust="spacing">POUF</text>
<text transform="translate(80.90 418.60) scale(0.94 1)" font-family="Liberation Sans" font-weight="normal" font-style="italic" font-size="12" fill="#2a2a2a">248</text>
<text transform="translate(80.90 429.70) scale(0.94 1)" font-family="Liberation Sans" font-weight="normal" font-style="italic" font-size="12" fill="#2a2a2a">98"</text>
<text transform="translate(201.10 418.60) scale(0.94 1)" font-family="Liberation Sans" font-weight="normal" font-style="italic" font-size="12" fill="#2a2a2a">248</text>
<text transform="translate(201.10 429.70) scale(0.94 1)" font-family="Liberation Sans" font-weight="normal" font-style="italic" font-size="12" fill="#2a2a2a">98"</text>
<text transform="translate(426.00 314.40) scale(0.85 1)" stroke="#c97444" stroke-width="0.12" font-family="Liberation Sans" font-weight="normal" font-style="normal" font-size="9.6" fill="#c97444" textLength="102.09" lengthAdjust="spacing">BOOKRACK CORNER</text>
<text transform="translate(373.08 331.96) scale(0.88 1)" stroke="#111" stroke-width="0.7" font-family="Liberation Sans" font-weight="normal" font-style="normal" font-size="18" fill="#111" textLength="67.02" lengthAdjust="spacing">S<tspan fill="#8e2030" stroke="#8e2030">T</tspan>038</text>
<text transform="translate(502.28 331.96) scale(0.88 1)" stroke="#111" stroke-width="0.7" font-family="Liberation Sans" font-weight="normal" font-style="normal" font-size="18" fill="#111" textLength="67.36" lengthAdjust="spacing">D<tspan fill="#8e2030" stroke="#8e2030">T</tspan>038</text>
<text transform="translate(345.10 410.60) scale(0.82 1)" stroke="#2a2a2a" stroke-width="0.3" font-family="Liberation Sans" font-weight="normal" font-style="italic" font-size="11.5" fill="#2a2a2a" textLength="25.16" lengthAdjust="spacing">TOP</text>
<text transform="translate(558.40 410.60) scale(0.82 1)" stroke="#2a2a2a" stroke-width="0.3" font-family="Liberation Sans" font-weight="normal" font-style="italic" font-size="11.5" fill="#2a2a2a" textLength="23.45" lengthAdjust="spacing">TOP</text>
<text transform="translate(392.70 418.60) scale(0.94 1)" font-family="Liberation Sans" font-weight="normal" font-style="italic" font-size="12" fill="#2a2a2a">248</text>
<text transform="translate(392.70 429.70) scale(0.94 1)" font-family="Liberation Sans" font-weight="normal" font-style="italic" font-size="12" fill="#2a2a2a">98"</text>
<text transform="translate(514.70 418.60) scale(0.94 1)" font-family="Liberation Sans" font-weight="normal" font-style="italic" font-size="12" fill="#2a2a2a">248</text>
<text transform="translate(514.70 429.70) scale(0.94 1)" font-family="Liberation Sans" font-weight="normal" font-style="italic" font-size="12" fill="#2a2a2a">98"</text>
<text transform="translate(723.70 314.40) scale(0.85 1)" stroke="#c97444" stroke-width="0.12" font-family="Liberation Sans" font-weight="normal" font-style="normal" font-size="9.6" fill="#c97444" textLength="102.32" lengthAdjust="spacing">BOOKRACK CORNER</text>
<text transform="translate(673.50 331.96) scale(0.88 1)" stroke="#111" stroke-width="0.7" font-family="Liberation Sans" font-weight="normal" font-style="normal" font-size="18" fill="#111" textLength="67.07" lengthAdjust="spacing">S<tspan fill="#8e2030" stroke="#8e2030">B</tspan>038</text>
<text transform="translate(801.70 331.96) scale(0.88 1)" stroke="#111" stroke-width="0.7" font-family="Liberation Sans" font-weight="normal" font-style="normal" font-size="18" fill="#111" textLength="67.98" lengthAdjust="spacing">D<tspan fill="#8e2030" stroke="#8e2030">B</tspan>038</text>
<text transform="translate(644.40 410.40) scale(0.82 1)" stroke="#2a2a2a" stroke-width="0.3" font-family="Liberation Sans" font-weight="normal" font-style="italic" font-size="11.5" fill="#2a2a2a" textLength="48.57" lengthAdjust="spacing">BIG ARM</text>
<text transform="translate(848.40 410.40) scale(0.82 1)" stroke="#2a2a2a" stroke-width="0.3" font-family="Liberation Sans" font-weight="normal" font-style="italic" font-size="11.5" fill="#2a2a2a" textLength="48.57" lengthAdjust="spacing">BIG ARM</text>
<text transform="translate(704.00 418.60) scale(0.94 1)" font-family="Liberation Sans" font-weight="normal" font-style="italic" font-size="12" fill="#2a2a2a">238</text>
<text transform="translate(704.00 429.70) scale(0.94 1)" font-family="Liberation Sans" font-weight="normal" font-style="italic" font-size="12" fill="#2a2a2a">94"</text>
<text transform="translate(815.00 418.60) scale(0.94 1)" font-family="Liberation Sans" font-weight="normal" font-style="italic" font-size="12" fill="#2a2a2a">238</text>
<text transform="translate(815.00 429.70) scale(0.94 1)" font-family="Liberation Sans" font-weight="normal" font-style="italic" font-size="12" fill="#2a2a2a">94"</text>
<text transform="translate(33.66 459.54) scale(0.88 1)" stroke="#111" stroke-width="0.7" font-family="Liberation Sans" font-weight="normal" font-style="normal" font-size="18" fill="#111" textLength="67.02" lengthAdjust="spacing">S<tspan fill="#8e2030" stroke="#8e2030">P</tspan>025</text>
<text transform="translate(108.20 459.54) scale(0.88 1)" stroke="#111" stroke-width="0.7" font-family="Liberation Sans" font-weight="normal" font-style="normal" font-size="18" fill="#111" textLength="68.55" lengthAdjust="spacing">D<tspan fill="#8e2030" stroke="#8e2030">P</tspan>025</text>
<text transform="translate(32.70 539.00) scale(0.82 1)" stroke="#2a2a2a" stroke-width="0.3" font-family="Liberation Sans" font-weight="normal" font-style="italic" font-size="11.5" fill="#2a2a2a" textLength="30.28" lengthAdjust="spacing">POUF</text>
<text transform="translate(136.10 539.00) scale(0.82 1)" stroke="#2a2a2a" stroke-width="0.3" font-family="Liberation Sans" font-weight="normal" font-style="italic" font-size="11.5" fill="#2a2a2a" textLength="31.13" lengthAdjust="spacing">POUF</text>
<text transform="translate(54.10 555.80) scale(0.94 1)" font-family="Liberation Sans" font-weight="normal" font-style="italic" font-size="12" fill="#2a2a2a">130</text>
<text transform="translate(54.10 568.20) scale(0.94 1)" font-family="Liberation Sans" font-weight="normal" font-style="italic" font-size="12" fill="#2a2a2a">51"</text>
<text transform="translate(120.70 555.80) scale(0.94 1)" font-family="Liberation Sans" font-weight="normal" font-style="italic" font-size="12" fill="#2a2a2a">130</text>
<text transform="translate(120.70 568.20) scale(0.94 1)" font-family="Liberation Sans" font-weight="normal" font-style="italic" font-size="12" fill="#2a2a2a">51"</text>
<text transform="translate(251.12 459.54) scale(0.88 1)" stroke="#111" stroke-width="0.7" font-family="Liberation Sans" font-weight="normal" font-style="normal" font-size="18" fill="#111" textLength="66.50" lengthAdjust="spacing">S<tspan fill="#8e2030" stroke="#8e2030">T</tspan>025</text>
<text transform="translate(334.20 459.54) scale(0.88 1)" stroke="#111" stroke-width="0.7" font-family="Liberation Sans" font-weight="normal" font-style="normal" font-size="18" fill="#111" textLength="67.41" lengthAdjust="spacing">D<tspan fill="#8e2030" stroke="#8e2030">T</tspan>025</text>
<text transform="translate(247.60 539.00) scale(0.82 1)" stroke="#2a2a2a" stroke-width="0.3" font-family="Liberation Sans" font-weight="normal" font-style="italic" font-size="11.5" fill="#2a2a2a" textLength="23.21" lengthAdjust="spacing">TOP</text>
<text transform="translate(369.20 539.00) scale(0.82 1)" stroke="#2a2a2a" stroke-width="0.3" font-family="Liberation Sans" font-weight="normal" font-style="italic" font-size="11.5" fill="#2a2a2a" textLength="24.91" lengthAdjust="spacing">TOP</text>
<text transform="translate(270.70 555.80) scale(0.94 1)" font-family="Liberation Sans" font-weight="normal" font-style="italic" font-size="12" fill="#2a2a2a">130</text>
<text transform="translate(270.70 568.20) scale(0.94 1)" font-family="Liberation Sans" font-weight="normal" font-style="italic" font-size="12" fill="#2a2a2a">51"</text>
<text transform="translate(352.70 555.80) scale(0.94 1)" font-family="Liberation Sans" font-weight="normal" font-style="italic" font-size="12" fill="#2a2a2a">130</text>
<text transform="translate(352.70 568.20) scale(0.94 1)" font-family="Liberation Sans" font-weight="normal" font-style="italic" font-size="12" fill="#2a2a2a">51"</text>
<text transform="translate(458.20 459.54) scale(0.88 1)" stroke="#111" stroke-width="0.7" font-family="Liberation Sans" font-weight="normal" font-style="normal" font-size="18" fill="#111" textLength="68.55" lengthAdjust="spacing">S<tspan fill="#8e2030" stroke="#8e2030">B</tspan>025</text>
<text transform="translate(539.20 459.54) scale(0.88 1)" stroke="#111" stroke-width="0.7" font-family="Liberation Sans" font-weight="normal" font-style="normal" font-size="18" fill="#111" textLength="68.55" lengthAdjust="spacing">D<tspan fill="#8e2030" stroke="#8e2030">B</tspan>025</text>
<text transform="translate(450.40 539.00) scale(0.82 1)" stroke="#2a2a2a" stroke-width="0.3" font-family="Liberation Sans" font-weight="normal" font-style="italic" font-size="11.5" fill="#2a2a2a" textLength="49.06" lengthAdjust="spacing">BIG ARM</text>
<text transform="translate(569.00 539.00) scale(0.82 1)" stroke="#2a2a2a" stroke-width="0.3" font-family="Liberation Sans" font-weight="normal" font-style="italic" font-size="11.5" fill="#2a2a2a" textLength="49.06" lengthAdjust="spacing">BIG ARM</text>
<text transform="translate(478.10 555.80) scale(0.94 1)" font-family="Liberation Sans" font-weight="normal" font-style="italic" font-size="12" fill="#2a2a2a">120</text>
<text transform="translate(478.90 568.20) scale(0.94 1)" font-family="Liberation Sans" font-weight="normal" font-style="italic" font-size="12" fill="#2a2a2a">47"</text>
<text transform="translate(560.70 555.80) scale(0.94 1)" font-family="Liberation Sans" font-weight="normal" font-style="italic" font-size="12" fill="#2a2a2a">120</text>
<text transform="translate(560.70 568.20) scale(0.94 1)" font-family="Liberation Sans" font-weight="normal" font-style="italic" font-size="12" fill="#2a2a2a">47"</text>
<text transform="translate(707.20 459.54) scale(0.88 1)" stroke="#111" stroke-width="0.7" font-family="Liberation Sans" font-weight="normal" font-style="normal" font-size="18" fill="#111" textLength="65.23" lengthAdjust="spacing">S<tspan fill="#8e2030" stroke="#8e2030">L</tspan>025</text>
<text transform="translate(808.32 459.54) scale(0.88 1)" stroke="#111" stroke-width="0.7" font-family="Liberation Sans" font-weight="normal" font-style="normal" font-size="18" fill="#111" textLength="67.27" lengthAdjust="spacing">D<tspan fill="#8e2030" stroke="#8e2030">L</tspan>025</text>
<text transform="translate(709.80 539.00) scale(0.82 1)" stroke="#2a2a2a" stroke-width="0.3" font-family="Liberation Sans" font-weight="normal" font-style="italic" font-size="11.5" fill="#2a2a2a" textLength="22.96" lengthAdjust="spacing">TOP</text>
<text transform="translate(846.70 539.00) scale(0.82 1)" stroke="#2a2a2a" stroke-width="0.3" font-family="Liberation Sans" font-weight="normal" font-style="italic" font-size="11.5" fill="#2a2a2a" textLength="23.45" lengthAdjust="spacing">TOP</text>
<text transform="translate(731.00 555.80) scale(0.94 1)" font-family="Liberation Sans" font-weight="normal" font-style="italic" font-size="12" fill="#2a2a2a">180</text>
<text transform="translate(731.00 568.20) scale(0.94 1)" font-family="Liberation Sans" font-weight="normal" font-style="italic" font-size="12" fill="#2a2a2a">71"</text>
<text transform="translate(829.30 555.80) scale(0.94 1)" font-family="Liberation Sans" font-weight="normal" font-style="italic" font-size="12" fill="#2a2a2a">180</text>
<text transform="translate(829.30 568.20) scale(0.94 1)" font-family="Liberation Sans" font-weight="normal" font-style="italic" font-size="12" fill="#2a2a2a">71"</text>
<text transform="translate(57.16 600.58) scale(0.88 1)" stroke="#111" stroke-width="0.7" font-family="Liberation Sans" font-weight="normal" font-style="normal" font-size="18" fill="#111" textLength="67.50" lengthAdjust="spacing">S<tspan fill="#8e2030" stroke="#8e2030">P</tspan>026</text>
<text transform="translate(171.24 600.58) scale(0.88 1)" stroke="#111" stroke-width="0.7" font-family="Liberation Sans" font-weight="normal" font-style="normal" font-size="18" fill="#111" textLength="68.68" lengthAdjust="spacing">D<tspan fill="#8e2030" stroke="#8e2030">P</tspan>026</text>
<text transform="translate(36.40 679.00) scale(0.82 1)" stroke="#2a2a2a" stroke-width="0.3" font-family="Liberation Sans" font-weight="normal" font-style="italic" font-size="11.5" fill="#2a2a2a" textLength="31.62" lengthAdjust="spacing">POUF</text>
<text transform="translate(225.50 679.00) scale(0.82 1)" stroke="#2a2a2a" stroke-width="0.3" font-family="Liberation Sans" font-weight="normal" font-style="italic" font-size="11.5" fill="#2a2a2a" textLength="29.18" lengthAdjust="spacing">POUF</text>
<text transform="translate(79.50 692.30) scale(0.94 1)" font-family="Liberation Sans" font-weight="normal" font-style="italic" font-size="12" fill="#2a2a2a">210</text>
<text transform="translate(79.50 704.60) scale(0.94 1)" font-family="Liberation Sans" font-weight="normal" font-style="italic" font-size="12" fill="#2a2a2a">83"</text>
<text transform="translate(188.90 692.30) scale(0.94 1)" font-family="Liberation Sans" font-weight="normal" font-style="italic" font-size="12" fill="#2a2a2a">210</text>
<text transform="translate(188.90 704.60) scale(0.94 1)" font-family="Liberation Sans" font-weight="normal" font-style="italic" font-size="12" fill="#2a2a2a">83"</text>
<text transform="translate(388.58 600.58) scale(0.88 1)" stroke="#111" stroke-width="0.7" font-family="Liberation Sans" font-weight="normal" font-style="normal" font-size="18" fill="#111" textLength="66.98" lengthAdjust="spacing">S<tspan fill="#8e2030" stroke="#8e2030">T</tspan>026</text>
<text transform="translate(502.16 600.58) scale(0.88 1)" stroke="#111" stroke-width="0.7" font-family="Liberation Sans" font-weight="normal" font-style="normal" font-size="18" fill="#111" textLength="68.07" lengthAdjust="spacing">D<tspan fill="#8e2030" stroke="#8e2030">T</tspan>026</text>
<text transform="translate(369.20 679.00) scale(0.82 1)" stroke="#2a2a2a" stroke-width="0.3" font-family="Liberation Sans" font-weight="normal" font-style="italic" font-size="11.5" fill="#2a2a2a" textLength="24.18" lengthAdjust="spacing">TOP</text>
<text transform="translate(557.50 679.00) scale(0.82 1)" stroke="#2a2a2a" stroke-width="0.3" font-family="Liberation Sans" font-weight="normal" font-style="italic" font-size="11.5" fill="#2a2a2a" textLength="23.57" lengthAdjust="spacing">TOP</text>
<text transform="translate(414.90 692.30) scale(0.94 1)" font-family="Liberation Sans" font-weight="normal" font-style="italic" font-size="12" fill="#2a2a2a">210</text>
<text transform="translate(414.90 704.60) scale(0.94 1)" font-family="Liberation Sans" font-weight="normal" font-style="italic" font-size="12" fill="#2a2a2a">83"</text>
<text transform="translate(513.60 692.30) scale(0.94 1)" font-family="Liberation Sans" font-weight="normal" font-style="italic" font-size="12" fill="#2a2a2a">210</text>
<text transform="translate(513.60 704.60) scale(0.94 1)" font-family="Liberation Sans" font-weight="normal" font-style="italic" font-size="12" fill="#2a2a2a">83"</text>
<text transform="translate(697.16 600.58) scale(0.88 1)" stroke="#111" stroke-width="0.7" font-family="Liberation Sans" font-weight="normal" font-style="normal" font-size="18" fill="#111" textLength="68.59" lengthAdjust="spacing">S<tspan fill="#8e2030" stroke="#8e2030">B</tspan>026</text>
<text transform="translate(802.32 600.58) scale(0.88 1)" stroke="#111" stroke-width="0.7" font-family="Liberation Sans" font-weight="normal" font-style="normal" font-size="18" fill="#111" textLength="69.16" lengthAdjust="spacing">D<tspan fill="#8e2030" stroke="#8e2030">B</tspan>026</text>
<text transform="translate(675.60 679.00) scale(0.82 1)" stroke="#2a2a2a" stroke-width="0.3" font-family="Liberation Sans" font-weight="normal" font-style="italic" font-size="11.5" fill="#2a2a2a" textLength="48.82" lengthAdjust="spacing">BIG ARM</text>
<text transform="translate(847.80 679.00) scale(0.82 1)" stroke="#2a2a2a" stroke-width="0.3" font-family="Liberation Sans" font-weight="normal" font-style="italic" font-size="11.5" fill="#2a2a2a" textLength="48.94" lengthAdjust="spacing">BIG ARM</text>
<text transform="translate(727.50 692.30) scale(0.94 1)" font-family="Liberation Sans" font-weight="normal" font-style="italic" font-size="12" fill="#2a2a2a">200</text>
<text transform="translate(727.50 704.60) scale(0.94 1)" font-family="Liberation Sans" font-weight="normal" font-style="italic" font-size="12" fill="#2a2a2a">79"</text>
<text transform="translate(818.00 692.30) scale(0.94 1)" font-family="Liberation Sans" font-weight="normal" font-style="italic" font-size="12" fill="#2a2a2a">200</text>
<text transform="translate(818.00 704.60) scale(0.94 1)" font-family="Liberation Sans" font-weight="normal" font-style="italic" font-size="12" fill="#2a2a2a">79"</text>
</svg>
</body></html>
